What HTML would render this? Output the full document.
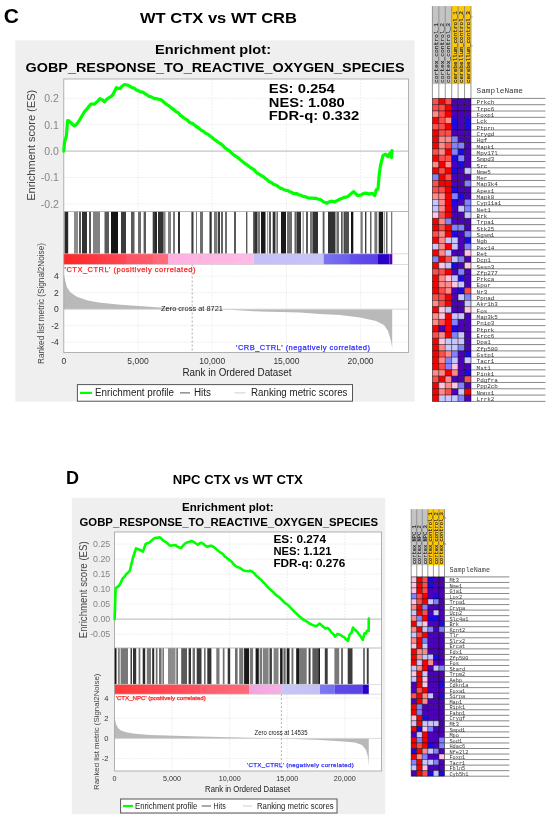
<!DOCTYPE html><html><head><meta charset="utf-8"><style>html,body{margin:0;padding:0;background:#fff;width:550px;height:819px;overflow:hidden}svg{display:block;filter:blur(0.35px)}</style></head><body>
<svg width="550" height="819" viewBox="0 0 550 819">
<rect width="550" height="819" fill="#fff"/>
<text x="3.8" y="23.4" font-family='"Liberation Sans", sans-serif' font-size="21" font-weight="bold" fill="#000" text-anchor="start" >C</text>
<text x="218.5" y="23.3" font-family='"Liberation Sans", sans-serif' font-size="15.5" font-weight="bold" fill="#000" text-anchor="middle" textLength="157" lengthAdjust="spacingAndGlyphs" >WT CTX vs WT CRB</text>
<rect x="15.3" y="40.4" width="399.3" height="361.20000000000005" fill="#efefef"/>
<rect x="63.8" y="79" width="344.59999999999997" height="273.6" fill="#fff"/>
<line x1="138.0" y1="79" x2="138.0" y2="211.5" stroke="#ebebeb" stroke-width="0.8" stroke-dasharray="2,1"/>
<line x1="138.0" y1="264.5" x2="138.0" y2="352.6" stroke="#ebebeb" stroke-width="0.8" stroke-dasharray="2,1"/>
<line x1="212.2" y1="79" x2="212.2" y2="211.5" stroke="#ebebeb" stroke-width="0.8" stroke-dasharray="2,1"/>
<line x1="212.2" y1="264.5" x2="212.2" y2="352.6" stroke="#ebebeb" stroke-width="0.8" stroke-dasharray="2,1"/>
<line x1="286.4" y1="79" x2="286.4" y2="211.5" stroke="#ebebeb" stroke-width="0.8" stroke-dasharray="2,1"/>
<line x1="286.4" y1="264.5" x2="286.4" y2="352.6" stroke="#ebebeb" stroke-width="0.8" stroke-dasharray="2,1"/>
<line x1="360.6" y1="79" x2="360.6" y2="211.5" stroke="#ebebeb" stroke-width="0.8" stroke-dasharray="2,1"/>
<line x1="360.6" y1="264.5" x2="360.6" y2="352.6" stroke="#ebebeb" stroke-width="0.8" stroke-dasharray="2,1"/>
<line x1="63.8" y1="98.3" x2="408.4" y2="98.3" stroke="#ebebeb" stroke-width="0.8" stroke-dasharray="2,1"/>
<text x="58.9" y="102.1" font-family='"Liberation Sans", sans-serif' font-size="10.5" font-weight="normal" fill="#858585" text-anchor="end" >0.2</text>
<line x1="63.8" y1="124.7" x2="408.4" y2="124.7" stroke="#ebebeb" stroke-width="0.8" stroke-dasharray="2,1"/>
<text x="58.9" y="128.5" font-family='"Liberation Sans", sans-serif' font-size="10.5" font-weight="normal" fill="#858585" text-anchor="end" >0.1</text>
<line x1="63.8" y1="151.1" x2="408.4" y2="151.1" stroke="#b8b8b8" stroke-width="1"/>
<text x="58.9" y="154.9" font-family='"Liberation Sans", sans-serif' font-size="10.5" font-weight="normal" fill="#858585" text-anchor="end" >0.0</text>
<line x1="63.8" y1="177.5" x2="408.4" y2="177.5" stroke="#ebebeb" stroke-width="0.8" stroke-dasharray="2,1"/>
<text x="58.9" y="181.3" font-family='"Liberation Sans", sans-serif' font-size="10.5" font-weight="normal" fill="#858585" text-anchor="end" >-0.1</text>
<line x1="63.8" y1="203.9" x2="408.4" y2="203.9" stroke="#ebebeb" stroke-width="0.8" stroke-dasharray="2,1"/>
<text x="58.9" y="207.7" font-family='"Liberation Sans", sans-serif' font-size="10.5" font-weight="normal" fill="#858585" text-anchor="end" >-0.2</text>
<line x1="63.8" y1="276.2" x2="408.4" y2="276.2" stroke="#ebebeb" stroke-width="0.8" stroke-dasharray="2,1"/>
<text x="58.8" y="279.2" font-family='"Liberation Sans", sans-serif' font-size="8.5" font-weight="normal" fill="#333" text-anchor="end" >4</text>
<line x1="63.8" y1="292.7" x2="408.4" y2="292.7" stroke="#ebebeb" stroke-width="0.8" stroke-dasharray="2,1"/>
<text x="58.8" y="295.7" font-family='"Liberation Sans", sans-serif' font-size="8.5" font-weight="normal" fill="#333" text-anchor="end" >2</text>
<text x="58.8" y="312.2" font-family='"Liberation Sans", sans-serif' font-size="8.5" font-weight="normal" fill="#333" text-anchor="end" >0</text>
<line x1="63.8" y1="325.7" x2="408.4" y2="325.7" stroke="#ebebeb" stroke-width="0.8" stroke-dasharray="2,1"/>
<text x="58.8" y="328.7" font-family='"Liberation Sans", sans-serif' font-size="8.5" font-weight="normal" fill="#333" text-anchor="end" >-2</text>
<line x1="63.8" y1="342.2" x2="408.4" y2="342.2" stroke="#ebebeb" stroke-width="0.8" stroke-dasharray="2,1"/>
<text x="58.8" y="345.2" font-family='"Liberation Sans", sans-serif' font-size="8.5" font-weight="normal" fill="#333" text-anchor="end" >-4</text>
<path d="M63.8,309.2 L63.8,274.2 L65.5,281.8 L67.0,287.3 L70.3,292.3 L76.8,296.7 L87.7,300.4 L98.6,302.5 L120.5,304.7 L142.3,306.3 L159.7,307.6 L180.0,308.5 L193.4,309.3 L230.0,309.8 L260.0,311.5 L300.0,312.6 L320.0,314.0 L340.0,315.0 L360.0,317.4 L376.0,321.0 L384.0,325.0 L388.0,331.0 L391.0,341.0 L392.2,348.0 L392.2,309.2 Z" fill="#b9b9b9" stroke="none"/>
<line x1="63.8" y1="309.2" x2="408.4" y2="309.2" stroke="#d0d0d0" stroke-width="0.8"/>
<line x1="192.2" y1="264.5" x2="192.2" y2="352.6" stroke="#9a9a9a" stroke-width="0.8" stroke-dasharray="2,2"/>
<text x="161" y="311.0" font-family='"Liberation Sans", sans-serif' font-size="7.5" font-weight="normal" fill="#222" text-anchor="start" textLength="62" lengthAdjust="spacingAndGlyphs" >Zero cross at 8721</text>
<rect x="64.5" y="211.5" width="3.7" height="42.30000000000001" fill="rgb(40,40,40)"/>
<rect x="74.0" y="211.5" width="4.0" height="42.30000000000001" fill="rgb(140,140,140)"/>
<rect x="79.0" y="211.5" width="2.0" height="42.30000000000001" fill="rgb(90,90,90)"/>
<rect x="82.0" y="211.5" width="5.0" height="42.30000000000001" fill="rgb(50,50,50)"/>
<rect x="89.0" y="211.5" width="2.0" height="42.30000000000001" fill="rgb(90,90,90)"/>
<rect x="93.0" y="211.5" width="7.0" height="42.30000000000001" fill="rgb(130,130,130)"/>
<rect x="104.5" y="211.5" width="4.5" height="42.30000000000001" fill="rgb(90,90,90)"/>
<rect x="111.0" y="211.5" width="7.0" height="42.30000000000001" fill="rgb(20,20,20)"/>
<rect x="121.0" y="211.5" width="5.0" height="42.30000000000001" fill="rgb(60,60,60)"/>
<rect x="131.0" y="211.5" width="3.5" height="42.30000000000001" fill="rgb(90,90,90)"/>
<rect x="138.0" y="211.5" width="3.0" height="42.30000000000001" fill="rgb(110,110,110)"/>
<rect x="143.6" y="211.5" width="2.4" height="42.30000000000001" fill="rgb(90,90,90)"/>
<rect x="152.7" y="211.5" width="3.3" height="42.30000000000001" fill="rgb(60,60,60)"/>
<rect x="155.0" y="211.5" width="2.0" height="42.30000000000001" fill="rgb(40,40,40)"/>
<rect x="158.0" y="211.5" width="5.0" height="42.30000000000001" fill="rgb(50,50,50)"/>
<rect x="163.0" y="211.5" width="2.5" height="42.30000000000001" fill="rgb(130,130,130)"/>
<rect x="168.0" y="211.5" width="3.0" height="42.30000000000001" fill="rgb(130,130,130)"/>
<rect x="173.0" y="211.5" width="2.0" height="42.30000000000001" fill="rgb(120,120,120)"/>
<rect x="178.0" y="211.5" width="2.0" height="42.30000000000001" fill="rgb(50,50,50)"/>
<rect x="191.4" y="211.5" width="2.1" height="42.30000000000001" fill="rgb(60,60,60)"/>
<rect x="196.0" y="211.5" width="1.0" height="42.30000000000001" fill="rgb(120,120,120)"/>
<rect x="200.0" y="211.5" width="3.0" height="42.30000000000001" fill="rgb(110,110,110)"/>
<rect x="209.5" y="211.5" width="2.2" height="42.30000000000001" fill="rgb(50,50,50)"/>
<rect x="214.0" y="211.5" width="3.0" height="42.30000000000001" fill="rgb(120,120,120)"/>
<rect x="217.7" y="211.5" width="2.3" height="42.30000000000001" fill="rgb(60,60,60)"/>
<rect x="221.0" y="211.5" width="2.0" height="42.30000000000001" fill="rgb(100,100,100)"/>
<rect x="225.0" y="211.5" width="2.0" height="42.30000000000001" fill="rgb(110,110,110)"/>
<rect x="234.0" y="211.5" width="2.0" height="42.30000000000001" fill="rgb(90,90,90)"/>
<rect x="246.0" y="211.5" width="1.4" height="42.30000000000001" fill="rgb(90,90,90)"/>
<rect x="253.0" y="211.5" width="2.0" height="42.30000000000001" fill="rgb(100,100,100)"/>
<rect x="254.5" y="211.5" width="2.8" height="42.30000000000001" fill="rgb(50,50,50)"/>
<rect x="257.3" y="211.5" width="2.7" height="42.30000000000001" fill="rgb(120,120,120)"/>
<rect x="261.0" y="211.5" width="4.5" height="42.30000000000001" fill="rgb(25,25,25)"/>
<rect x="267.3" y="211.5" width="0.8" height="42.30000000000001" fill="rgb(110,110,110)"/>
<rect x="269.0" y="211.5" width="2.0" height="42.30000000000001" fill="rgb(90,90,90)"/>
<rect x="272.7" y="211.5" width="2.8" height="42.30000000000001" fill="rgb(50,50,50)"/>
<rect x="276.4" y="211.5" width="1.6" height="42.30000000000001" fill="rgb(110,110,110)"/>
<rect x="281.0" y="211.5" width="5.0" height="42.30000000000001" fill="rgb(25,25,25)"/>
<rect x="287.0" y="211.5" width="5.0" height="42.30000000000001" fill="rgb(110,110,110)"/>
<rect x="294.5" y="211.5" width="1.5" height="42.30000000000001" fill="rgb(100,100,100)"/>
<rect x="296.4" y="211.5" width="4.6" height="42.30000000000001" fill="rgb(50,50,50)"/>
<rect x="302.7" y="211.5" width="0.9" height="42.30000000000001" fill="rgb(110,110,110)"/>
<rect x="306.0" y="211.5" width="2.0" height="42.30000000000001" fill="rgb(90,90,90)"/>
<rect x="310.0" y="211.5" width="2.7" height="42.30000000000001" fill="rgb(120,120,120)"/>
<rect x="312.7" y="211.5" width="5.3" height="42.30000000000001" fill="rgb(50,50,50)"/>
<rect x="322.7" y="211.5" width="1.8" height="42.30000000000001" fill="rgb(90,90,90)"/>
<rect x="328.0" y="211.5" width="7.5" height="42.30000000000001" fill="rgb(50,50,50)"/>
<rect x="336.4" y="211.5" width="2.6" height="42.30000000000001" fill="rgb(110,110,110)"/>
<rect x="341.0" y="211.5" width="1.7" height="42.30000000000001" fill="rgb(90,90,90)"/>
<rect x="343.6" y="211.5" width="4.4" height="42.30000000000001" fill="rgb(60,60,60)"/>
<rect x="344.5" y="211.5" width="4.5" height="42.30000000000001" fill="rgb(80,80,80)"/>
<rect x="351.0" y="211.5" width="2.3" height="42.30000000000001" fill="rgb(20,20,20)"/>
<rect x="360.5" y="211.5" width="2.2" height="42.30000000000001" fill="rgb(120,120,120)"/>
<rect x="365.0" y="211.5" width="1.4" height="42.30000000000001" fill="rgb(60,60,60)"/>
<rect x="370.0" y="211.5" width="1.5" height="42.30000000000001" fill="rgb(100,100,100)"/>
<rect x="374.4" y="211.5" width="2.9" height="42.30000000000001" fill="rgb(120,120,120)"/>
<rect x="378.7" y="211.5" width="4.3" height="42.30000000000001" fill="rgb(25,25,25)"/>
<rect x="383.8" y="211.5" width="0.8" height="42.30000000000001" fill="rgb(90,90,90)"/>
<rect x="386.0" y="211.5" width="1.5" height="42.30000000000001" fill="rgb(100,100,100)"/>
<rect x="391.0" y="211.5" width="1.3" height="42.30000000000001" fill="rgb(120,120,120)"/>
<defs><linearGradient id="grad1" x1="0" x2="1" y1="0" y2="0"><stop offset="0" stop-color="#ff2626"/><stop offset="1" stop-color="#ff4858"/></linearGradient></defs>
<rect x="63.8" y="253.8" width="62.2" height="10.699999999999989" fill="url(#grad1)"/>
<defs><linearGradient id="grad2" x1="0" x2="1" y1="0" y2="0"><stop offset="0" stop-color="#ff5262"/><stop offset="1" stop-color="#ff5c6c"/></linearGradient></defs>
<rect x="126" y="253.8" width="27" height="10.699999999999989" fill="url(#grad2)"/>
<defs><linearGradient id="grad3" x1="0" x2="1" y1="0" y2="0"><stop offset="0" stop-color="#ff6878"/><stop offset="1" stop-color="#ff6c7c"/></linearGradient></defs>
<rect x="153" y="253.8" width="15" height="10.699999999999989" fill="url(#grad3)"/>
<defs><linearGradient id="grad4" x1="0" x2="1" y1="0" y2="0"><stop offset="0" stop-color="#ffb0e0"/><stop offset="1" stop-color="#ffbce6"/></linearGradient></defs>
<rect x="168" y="253.8" width="85.6" height="10.699999999999989" fill="url(#grad4)"/>
<defs><linearGradient id="grad5" x1="0" x2="1" y1="0" y2="0"><stop offset="0" stop-color="#c4c0f8"/><stop offset="1" stop-color="#c8c4fa"/></linearGradient></defs>
<rect x="253.6" y="253.8" width="70.00000000000003" height="10.699999999999989" fill="url(#grad5)"/>
<defs><linearGradient id="grad6" x1="0" x2="1" y1="0" y2="0"><stop offset="0" stop-color="#7c74f2"/><stop offset="1" stop-color="#6a5cee"/></linearGradient></defs>
<rect x="323.6" y="253.8" width="26.399999999999977" height="10.699999999999989" fill="url(#grad6)"/>
<defs><linearGradient id="grad7" x1="0" x2="1" y1="0" y2="0"><stop offset="0" stop-color="#6450ec"/><stop offset="1" stop-color="#5a40e8"/></linearGradient></defs>
<rect x="350" y="253.8" width="28" height="10.699999999999989" fill="url(#grad7)"/>
<rect x="378" y="253.8" width="11.5" height="10.699999999999989" fill="#2a00c8"/>
<rect x="389.5" y="253.8" width="2.8000000000000114" height="10.699999999999989" fill="#5c00b0"/>
<line x1="63.8" y1="211.5" x2="408.4" y2="211.5" stroke="#a8a8a8" stroke-width="0.8"/>
<line x1="63.8" y1="253.8" x2="408.4" y2="253.8" stroke="#c8c8c8" stroke-width="0.6"/>
<line x1="63.8" y1="264.5" x2="408.4" y2="264.5" stroke="#c8c8c8" stroke-width="0.6"/>
<rect x="63.8" y="79" width="344.59999999999997" height="273.6" fill="none" stroke="#a0a0a0" stroke-width="0.8"/>
<path d="M63.8,151.1 L64.5,142.3 L66.4,136.0 L67.6,120.5 L69.2,121.1 L70.9,122.6 L72.7,124.6 L74.5,125.9 L76.3,124.4 L78.2,122.3 L80.9,117.7 L83.6,113.2 L85.4,110.6 L87.3,108.6 L89.1,106.3 L90.9,104.1 L92.7,104.0 L94.5,104.1 L96.3,102.4 L98.2,100.8 L100.0,98.6 L102.2,99.8 L104.5,101.9 L106.8,99.3 L109.0,97.7 L110.8,96.7 L112.7,95.0 L114.6,91.3 L116.4,87.7 L118.2,88.4 L120.0,88.6 L122.2,86.0 L124.5,84.5 L127.3,85.0 L129.1,85.8 L130.9,87.0 L132.7,87.7 L134.5,88.3 L136.4,90.1 L138.2,90.5 L140.0,91.8 L141.8,91.8 L143.7,92.7 L145.5,94.1 L147.3,95.0 L149.1,96.4 L150.9,96.8 L152.7,97.6 L154.5,98.6 L156.3,98.6 L158.2,99.1 L160.0,99.5 L161.7,100.3 L163.4,101.8 L165.1,103.3 L166.9,104.6 L168.6,105.6 L170.3,106.9 L172.0,108.5 L173.7,109.5 L175.3,111.1 L177.0,112.2 L178.7,113.2 L180.4,115.4 L182.1,116.4 L183.7,117.8 L185.4,119.0 L187.2,119.9 L189.0,122.0 L190.8,123.0 L192.6,123.4 L194.4,124.9 L196.2,126.5 L198.0,127.5 L199.7,128.9 L201.4,130.4 L203.1,131.0 L204.8,132.6 L206.5,133.6 L208.2,134.4 L209.9,135.9 L211.6,137.0 L213.3,138.7 L215.0,140.0 L216.6,140.9 L218.3,142.3 L220.0,143.5 L221.6,144.3 L223.2,145.9 L224.8,147.8 L226.4,148.8 L228.0,150.2 L229.7,151.2 L231.4,152.9 L233.1,154.4 L234.9,155.7 L236.6,156.7 L238.3,158.1 L240.0,159.5 L241.8,160.9 L243.7,162.6 L245.5,163.8 L247.3,165.0 L249.2,166.6 L251.0,168.0 L252.6,168.7 L254.2,169.9 L255.8,171.8 L257.4,173.3 L259.0,174.0 L260.6,175.2 L262.2,176.1 L263.8,177.0 L265.4,178.5 L267.0,179.6 L268.6,181.2 L270.2,182.0 L271.8,182.8 L273.4,184.2 L275.0,184.8 L276.7,185.4 L278.4,186.7 L280.2,188.1 L281.9,188.6 L283.6,189.4 L285.7,190.2 L287.9,190.7 L290.0,191.8 L291.8,192.5 L293.5,193.5 L295.3,193.6 L297.0,193.5 L298.7,194.8 L300.4,195.0 L302.1,195.9 L303.7,196.6 L305.4,196.7 L307.1,197.5 L308.8,198.0 L310.5,198.2 L312.2,198.2 L313.9,198.3 L315.6,198.2 L317.7,199.0 L319.9,199.4 L322.0,200.7 L323.7,202.0 L325.3,202.5 L327.0,203.3 L329.0,201.9 L331.0,201.2 L332.9,201.5 L334.7,201.8 L336.6,200.9 L338.5,200.0 L340.4,198.9 L342.3,198.2 L344.0,197.5 L345.7,197.2 L347.4,196.7 L349.3,195.3 L351.2,193.6 L353.8,191.6 L355.7,193.7 L357.6,195.6 L359.5,195.2 L361.4,194.9 L363.3,193.5 L365.2,193.1 L367.1,193.3 L369.0,194.1 L370.9,193.5 L372.9,193.6 L374.7,195.6 L376.2,189.8 L378.0,189.0 L379.2,174.5 L380.5,165.6 L383.0,155.4 L385.6,154.2 L388.0,156.7 L390.0,152.9 L391.5,157.5 L392.0,150.7" fill="none" stroke="#00ff00" stroke-width="3.2" stroke-linejoin="round" stroke-linecap="round"/>
<text x="64.5" y="272.3" font-family='"Liberation Sans", sans-serif' font-size="7.5" fill="#ff2020" stroke="#ff2020" stroke-width="0.25" textLength="131" lengthAdjust="spacing">'CTX_CTRL' (positively correlated)</text>
<text x="236" y="349.5" font-family='"Liberation Sans", sans-serif' font-size="7.5" fill="#3030ff" stroke="#3030ff" stroke-width="0.25" textLength="134" lengthAdjust="spacing">'CRB_CTRL' (negatively correlated)</text>
<text x="63.8" y="364.0" font-family='"Liberation Sans", sans-serif' font-size="8.5" font-weight="normal" fill="#333" text-anchor="middle" >0</text>
<text x="138.0" y="364.0" font-family='"Liberation Sans", sans-serif' font-size="8.5" font-weight="normal" fill="#333" text-anchor="middle" >5,000</text>
<text x="212.2" y="364.0" font-family='"Liberation Sans", sans-serif' font-size="8.5" font-weight="normal" fill="#333" text-anchor="middle" >10,000</text>
<text x="286.4" y="364.0" font-family='"Liberation Sans", sans-serif' font-size="8.5" font-weight="normal" fill="#333" text-anchor="middle" >15,000</text>
<text x="360.6" y="364.0" font-family='"Liberation Sans", sans-serif' font-size="8.5" font-weight="normal" fill="#333" text-anchor="middle" >20,000</text>
<text x="237" y="376.3" font-family='"Liberation Sans", sans-serif' font-size="10" font-weight="normal" fill="#222" text-anchor="middle" textLength="109" lengthAdjust="spacingAndGlyphs" >Rank in Ordered Dataset</text>
<text transform="translate(35.3,145.3) rotate(-90)" x="0" y="0" font-family='"Liberation Sans", sans-serif' font-size="11" fill="#444" text-anchor="middle" textLength="111" lengthAdjust="spacingAndGlyphs">Enrichment score (ES)</text>
<text transform="translate(44.2,303.5) rotate(-90)" x="0" y="0" font-family='"Liberation Sans", sans-serif' font-size="8.5" fill="#444" text-anchor="middle" textLength="121" lengthAdjust="spacingAndGlyphs">Ranked list metric (Signal2Noise)</text>
<text x="213" y="54.4" font-family='"Liberation Sans", sans-serif' font-size="12.2" font-weight="bold" fill="#000" text-anchor="middle" textLength="116" lengthAdjust="spacingAndGlyphs" >Enrichment plot:</text>
<text x="25.5" y="71.8" font-family='"Liberation Sans", sans-serif' font-size="13" font-weight="bold" fill="#000" text-anchor="start" textLength="379" lengthAdjust="spacingAndGlyphs" >GOBP_RESPONSE_TO_REACTIVE_OXYGEN_SPECIES</text>
<text x="268.8" y="92.8" font-family='"Liberation Sans", sans-serif' font-size="12.3" font-weight="bold" fill="#000" text-anchor="start" textLength="66" lengthAdjust="spacingAndGlyphs" >ES: 0.254</text>
<text x="268.8" y="106.5" font-family='"Liberation Sans", sans-serif' font-size="12.3" font-weight="bold" fill="#000" text-anchor="start" textLength="76" lengthAdjust="spacingAndGlyphs" >NES: 1.080</text>
<text x="268.8" y="120.2" font-family='"Liberation Sans", sans-serif' font-size="12.3" font-weight="bold" fill="#000" text-anchor="start" textLength="90.5" lengthAdjust="spacingAndGlyphs" >FDR-q: 0.332</text>
<rect x="77.4" y="384.6" width="275.1" height="16.599999999999966" fill="#fff" stroke="#555" stroke-width="1"/>
<line x1="80" y1="392.9" x2="92" y2="392.9" stroke="#00ff00" stroke-width="2.2"/>
<text x="95" y="396.4" font-family='"Liberation Sans", sans-serif' font-size="10" font-weight="normal" fill="#222" text-anchor="start" textLength="79" lengthAdjust="spacingAndGlyphs" >Enrichment profile</text>
<line x1="180" y1="392.9" x2="190" y2="392.9" stroke="#555" stroke-width="1"/>
<text x="194" y="396.4" font-family='"Liberation Sans", sans-serif' font-size="10" font-weight="normal" fill="#222" text-anchor="start" textLength="17" lengthAdjust="spacingAndGlyphs" >Hits</text>
<line x1="234.6" y1="392.9" x2="245.5" y2="392.9" stroke="#cfcfcf" stroke-width="1"/>
<text x="251" y="396.4" font-family='"Liberation Sans", sans-serif' font-size="10" font-weight="normal" fill="#222" text-anchor="start" textLength="96.5" lengthAdjust="spacingAndGlyphs" >Ranking metric scores</text>
<rect x="432.40" y="6.1" width="6.43" height="78.0" fill="#c4c4c4"/>
<rect x="438.83" y="6.1" width="6.43" height="78.0" fill="#c4c4c4"/>
<rect x="445.26" y="6.1" width="6.43" height="78.0" fill="#c4c4c4"/>
<rect x="451.69" y="6.1" width="6.43" height="78.0" fill="#ffc800"/>
<rect x="458.12" y="6.1" width="6.43" height="78.0" fill="#ffc800"/>
<rect x="464.55" y="6.1" width="6.43" height="78.0" fill="#ffc800"/>
<text transform="translate(437.61,83.1) rotate(-90)" x="0" y="0" font-family='"Liberation Mono", monospace' font-size="6.2" fill="#2a2a2a" stroke="#2a2a2a" stroke-width="0.15" textLength="60" lengthAdjust="spacingAndGlyphs">cortex_control_1</text>
<text transform="translate(444.04,83.1) rotate(-90)" x="0" y="0" font-family='"Liberation Mono", monospace' font-size="6.2" fill="#2a2a2a" stroke="#2a2a2a" stroke-width="0.15" textLength="60" lengthAdjust="spacingAndGlyphs">cortex_control_2</text>
<text transform="translate(450.47,83.1) rotate(-90)" x="0" y="0" font-family='"Liberation Mono", monospace' font-size="6.2" fill="#2a2a2a" stroke="#2a2a2a" stroke-width="0.15" textLength="60" lengthAdjust="spacingAndGlyphs">cortex_control_3</text>
<text transform="translate(456.90,83.1) rotate(-90)" x="0" y="0" font-family='"Liberation Mono", monospace' font-size="6.2" fill="#2a2a2a" stroke="#2a2a2a" stroke-width="0.15" textLength="72" lengthAdjust="spacingAndGlyphs">cerebellum_control_1</text>
<text transform="translate(463.33,83.1) rotate(-90)" x="0" y="0" font-family='"Liberation Mono", monospace' font-size="6.2" fill="#2a2a2a" stroke="#2a2a2a" stroke-width="0.15" textLength="72" lengthAdjust="spacingAndGlyphs">cerebellum_control_2</text>
<text transform="translate(469.76,83.1) rotate(-90)" x="0" y="0" font-family='"Liberation Mono", monospace' font-size="6.2" fill="#2a2a2a" stroke="#2a2a2a" stroke-width="0.15" textLength="72" lengthAdjust="spacingAndGlyphs">cerebellum_control_3</text>
<line x1="432.40" y1="6.1" x2="432.40" y2="98.4" stroke="#8a8a8a" stroke-width="0.9"/>
<line x1="438.83" y1="6.1" x2="438.83" y2="98.4" stroke="#8a8a8a" stroke-width="0.9"/>
<line x1="445.26" y1="6.1" x2="445.26" y2="98.4" stroke="#8a8a8a" stroke-width="0.9"/>
<line x1="451.69" y1="6.1" x2="451.69" y2="98.4" stroke="#8a8a8a" stroke-width="0.9"/>
<line x1="458.12" y1="6.1" x2="458.12" y2="98.4" stroke="#8a8a8a" stroke-width="0.9"/>
<line x1="464.55" y1="6.1" x2="464.55" y2="98.4" stroke="#8a8a8a" stroke-width="0.9"/>
<line x1="470.98" y1="6.1" x2="470.98" y2="98.4" stroke="#8a8a8a" stroke-width="0.9"/>
<rect x="432.40" y="98.40" width="6.43" height="6.31" fill="#ff4c4c" stroke="rgba(0,0,0,0.45)" stroke-width="0.8"/>
<rect x="438.83" y="98.40" width="6.43" height="6.31" fill="#f60000" stroke="rgba(0,0,0,0.45)" stroke-width="0.8"/>
<rect x="445.26" y="98.40" width="6.43" height="6.31" fill="#ff4c4c" stroke="rgba(0,0,0,0.45)" stroke-width="0.8"/>
<rect x="451.69" y="98.40" width="6.43" height="6.31" fill="#4c00bc" stroke="rgba(0,0,0,0.45)" stroke-width="0.8"/>
<rect x="458.12" y="98.40" width="6.43" height="6.31" fill="#4c00bc" stroke="rgba(0,0,0,0.45)" stroke-width="0.8"/>
<rect x="464.55" y="98.40" width="6.43" height="6.31" fill="#4c00bc" stroke="rgba(0,0,0,0.45)" stroke-width="0.8"/>
<rect x="432.40" y="104.71" width="6.43" height="6.31" fill="#ff4c4c" stroke="rgba(0,0,0,0.45)" stroke-width="0.8"/>
<rect x="438.83" y="104.71" width="6.43" height="6.31" fill="#ff4c4c" stroke="rgba(0,0,0,0.45)" stroke-width="0.8"/>
<rect x="445.26" y="104.71" width="6.43" height="6.31" fill="#f60000" stroke="rgba(0,0,0,0.45)" stroke-width="0.8"/>
<rect x="451.69" y="104.71" width="6.43" height="6.31" fill="#4c00bc" stroke="rgba(0,0,0,0.45)" stroke-width="0.8"/>
<rect x="458.12" y="104.71" width="6.43" height="6.31" fill="#4c00bc" stroke="rgba(0,0,0,0.45)" stroke-width="0.8"/>
<rect x="464.55" y="104.71" width="6.43" height="6.31" fill="#4c00bc" stroke="rgba(0,0,0,0.45)" stroke-width="0.8"/>
<rect x="432.40" y="111.03" width="6.43" height="6.31" fill="#ff8a8a" stroke="rgba(0,0,0,0.45)" stroke-width="0.8"/>
<rect x="438.83" y="111.03" width="6.43" height="6.31" fill="#ff4c4c" stroke="rgba(0,0,0,0.45)" stroke-width="0.8"/>
<rect x="445.26" y="111.03" width="6.43" height="6.31" fill="#f60000" stroke="rgba(0,0,0,0.45)" stroke-width="0.8"/>
<rect x="451.69" y="111.03" width="6.43" height="6.31" fill="#4c00bc" stroke="rgba(0,0,0,0.45)" stroke-width="0.8"/>
<rect x="458.12" y="111.03" width="6.43" height="6.31" fill="#4c00bc" stroke="rgba(0,0,0,0.45)" stroke-width="0.8"/>
<rect x="464.55" y="111.03" width="6.43" height="6.31" fill="#4c00bc" stroke="rgba(0,0,0,0.45)" stroke-width="0.8"/>
<rect x="432.40" y="117.34" width="6.43" height="6.31" fill="#f60000" stroke="rgba(0,0,0,0.45)" stroke-width="0.8"/>
<rect x="438.83" y="117.34" width="6.43" height="6.31" fill="#ff4c4c" stroke="rgba(0,0,0,0.45)" stroke-width="0.8"/>
<rect x="445.26" y="117.34" width="6.43" height="6.31" fill="#ff8a8a" stroke="rgba(0,0,0,0.45)" stroke-width="0.8"/>
<rect x="451.69" y="117.34" width="6.43" height="6.31" fill="#1c08e4" stroke="rgba(0,0,0,0.45)" stroke-width="0.8"/>
<rect x="458.12" y="117.34" width="6.43" height="6.31" fill="#4c00bc" stroke="rgba(0,0,0,0.45)" stroke-width="0.8"/>
<rect x="464.55" y="117.34" width="6.43" height="6.31" fill="#1c08e4" stroke="rgba(0,0,0,0.45)" stroke-width="0.8"/>
<rect x="432.40" y="123.65" width="6.43" height="6.31" fill="#ff4c4c" stroke="rgba(0,0,0,0.45)" stroke-width="0.8"/>
<rect x="438.83" y="123.65" width="6.43" height="6.31" fill="#ff4c4c" stroke="rgba(0,0,0,0.45)" stroke-width="0.8"/>
<rect x="445.26" y="123.65" width="6.43" height="6.31" fill="#f60000" stroke="rgba(0,0,0,0.45)" stroke-width="0.8"/>
<rect x="451.69" y="123.65" width="6.43" height="6.31" fill="#1c08e4" stroke="rgba(0,0,0,0.45)" stroke-width="0.8"/>
<rect x="458.12" y="123.65" width="6.43" height="6.31" fill="#4c00bc" stroke="rgba(0,0,0,0.45)" stroke-width="0.8"/>
<rect x="464.55" y="123.65" width="6.43" height="6.31" fill="#1c08e4" stroke="rgba(0,0,0,0.45)" stroke-width="0.8"/>
<rect x="432.40" y="129.96" width="6.43" height="6.31" fill="#f60000" stroke="rgba(0,0,0,0.45)" stroke-width="0.8"/>
<rect x="438.83" y="129.96" width="6.43" height="6.31" fill="#ff4c4c" stroke="rgba(0,0,0,0.45)" stroke-width="0.8"/>
<rect x="445.26" y="129.96" width="6.43" height="6.31" fill="#ff4c4c" stroke="rgba(0,0,0,0.45)" stroke-width="0.8"/>
<rect x="451.69" y="129.96" width="6.43" height="6.31" fill="#4c00bc" stroke="rgba(0,0,0,0.45)" stroke-width="0.8"/>
<rect x="458.12" y="129.96" width="6.43" height="6.31" fill="#4c00bc" stroke="rgba(0,0,0,0.45)" stroke-width="0.8"/>
<rect x="464.55" y="129.96" width="6.43" height="6.31" fill="#4c00bc" stroke="rgba(0,0,0,0.45)" stroke-width="0.8"/>
<rect x="432.40" y="136.28" width="6.43" height="6.31" fill="#f60000" stroke="rgba(0,0,0,0.45)" stroke-width="0.8"/>
<rect x="438.83" y="136.28" width="6.43" height="6.31" fill="#ff8a8a" stroke="rgba(0,0,0,0.45)" stroke-width="0.8"/>
<rect x="445.26" y="136.28" width="6.43" height="6.31" fill="#ff8a8a" stroke="rgba(0,0,0,0.45)" stroke-width="0.8"/>
<rect x="451.69" y="136.28" width="6.43" height="6.31" fill="#8282ff" stroke="rgba(0,0,0,0.45)" stroke-width="0.8"/>
<rect x="458.12" y="136.28" width="6.43" height="6.31" fill="#4c00bc" stroke="rgba(0,0,0,0.45)" stroke-width="0.8"/>
<rect x="464.55" y="136.28" width="6.43" height="6.31" fill="#4c00bc" stroke="rgba(0,0,0,0.45)" stroke-width="0.8"/>
<rect x="432.40" y="142.59" width="6.43" height="6.31" fill="#f60000" stroke="rgba(0,0,0,0.45)" stroke-width="0.8"/>
<rect x="438.83" y="142.59" width="6.43" height="6.31" fill="#ff8a8a" stroke="rgba(0,0,0,0.45)" stroke-width="0.8"/>
<rect x="445.26" y="142.59" width="6.43" height="6.31" fill="#ff4c4c" stroke="rgba(0,0,0,0.45)" stroke-width="0.8"/>
<rect x="451.69" y="142.59" width="6.43" height="6.31" fill="#8282ff" stroke="rgba(0,0,0,0.45)" stroke-width="0.8"/>
<rect x="458.12" y="142.59" width="6.43" height="6.31" fill="#8282ff" stroke="rgba(0,0,0,0.45)" stroke-width="0.8"/>
<rect x="464.55" y="142.59" width="6.43" height="6.31" fill="#4c00bc" stroke="rgba(0,0,0,0.45)" stroke-width="0.8"/>
<rect x="432.40" y="148.90" width="6.43" height="6.31" fill="#ff4c4c" stroke="rgba(0,0,0,0.45)" stroke-width="0.8"/>
<rect x="438.83" y="148.90" width="6.43" height="6.31" fill="#ff8a8a" stroke="rgba(0,0,0,0.45)" stroke-width="0.8"/>
<rect x="445.26" y="148.90" width="6.43" height="6.31" fill="#f60000" stroke="rgba(0,0,0,0.45)" stroke-width="0.8"/>
<rect x="451.69" y="148.90" width="6.43" height="6.31" fill="#8282ff" stroke="rgba(0,0,0,0.45)" stroke-width="0.8"/>
<rect x="458.12" y="148.90" width="6.43" height="6.31" fill="#1c08e4" stroke="rgba(0,0,0,0.45)" stroke-width="0.8"/>
<rect x="464.55" y="148.90" width="6.43" height="6.31" fill="#4c00bc" stroke="rgba(0,0,0,0.45)" stroke-width="0.8"/>
<rect x="432.40" y="155.21" width="6.43" height="6.31" fill="#f60000" stroke="rgba(0,0,0,0.45)" stroke-width="0.8"/>
<rect x="438.83" y="155.21" width="6.43" height="6.31" fill="#ff4c4c" stroke="rgba(0,0,0,0.45)" stroke-width="0.8"/>
<rect x="445.26" y="155.21" width="6.43" height="6.31" fill="#ff4c4c" stroke="rgba(0,0,0,0.45)" stroke-width="0.8"/>
<rect x="451.69" y="155.21" width="6.43" height="6.31" fill="#1c08e4" stroke="rgba(0,0,0,0.45)" stroke-width="0.8"/>
<rect x="458.12" y="155.21" width="6.43" height="6.31" fill="#8282ff" stroke="rgba(0,0,0,0.45)" stroke-width="0.8"/>
<rect x="464.55" y="155.21" width="6.43" height="6.31" fill="#4c00bc" stroke="rgba(0,0,0,0.45)" stroke-width="0.8"/>
<rect x="432.40" y="161.53" width="6.43" height="6.31" fill="#ff8a8a" stroke="rgba(0,0,0,0.45)" stroke-width="0.8"/>
<rect x="438.83" y="161.53" width="6.43" height="6.31" fill="#f60000" stroke="rgba(0,0,0,0.45)" stroke-width="0.8"/>
<rect x="445.26" y="161.53" width="6.43" height="6.31" fill="#ff8a8a" stroke="rgba(0,0,0,0.45)" stroke-width="0.8"/>
<rect x="451.69" y="161.53" width="6.43" height="6.31" fill="#4c00bc" stroke="rgba(0,0,0,0.45)" stroke-width="0.8"/>
<rect x="458.12" y="161.53" width="6.43" height="6.31" fill="#1c08e4" stroke="rgba(0,0,0,0.45)" stroke-width="0.8"/>
<rect x="464.55" y="161.53" width="6.43" height="6.31" fill="#4c00bc" stroke="rgba(0,0,0,0.45)" stroke-width="0.8"/>
<rect x="432.40" y="167.84" width="6.43" height="6.31" fill="#f60000" stroke="rgba(0,0,0,0.45)" stroke-width="0.8"/>
<rect x="438.83" y="167.84" width="6.43" height="6.31" fill="#ff4c4c" stroke="rgba(0,0,0,0.45)" stroke-width="0.8"/>
<rect x="445.26" y="167.84" width="6.43" height="6.31" fill="#f60000" stroke="rgba(0,0,0,0.45)" stroke-width="0.8"/>
<rect x="451.69" y="167.84" width="6.43" height="6.31" fill="#1c08e4" stroke="rgba(0,0,0,0.45)" stroke-width="0.8"/>
<rect x="458.12" y="167.84" width="6.43" height="6.31" fill="#4c00bc" stroke="rgba(0,0,0,0.45)" stroke-width="0.8"/>
<rect x="464.55" y="167.84" width="6.43" height="6.31" fill="#c8c6ff" stroke="rgba(0,0,0,0.45)" stroke-width="0.8"/>
<rect x="432.40" y="174.15" width="6.43" height="6.31" fill="#8282ff" stroke="rgba(0,0,0,0.45)" stroke-width="0.8"/>
<rect x="438.83" y="174.15" width="6.43" height="6.31" fill="#f60000" stroke="rgba(0,0,0,0.45)" stroke-width="0.8"/>
<rect x="445.26" y="174.15" width="6.43" height="6.31" fill="#ff4c4c" stroke="rgba(0,0,0,0.45)" stroke-width="0.8"/>
<rect x="451.69" y="174.15" width="6.43" height="6.31" fill="#4c00bc" stroke="rgba(0,0,0,0.45)" stroke-width="0.8"/>
<rect x="458.12" y="174.15" width="6.43" height="6.31" fill="#4c00bc" stroke="rgba(0,0,0,0.45)" stroke-width="0.8"/>
<rect x="464.55" y="174.15" width="6.43" height="6.31" fill="#4c00bc" stroke="rgba(0,0,0,0.45)" stroke-width="0.8"/>
<rect x="432.40" y="180.46" width="6.43" height="6.31" fill="#ff4c4c" stroke="rgba(0,0,0,0.45)" stroke-width="0.8"/>
<rect x="438.83" y="180.46" width="6.43" height="6.31" fill="#f60000" stroke="rgba(0,0,0,0.45)" stroke-width="0.8"/>
<rect x="445.26" y="180.46" width="6.43" height="6.31" fill="#f60000" stroke="rgba(0,0,0,0.45)" stroke-width="0.8"/>
<rect x="451.69" y="180.46" width="6.43" height="6.31" fill="#4c00bc" stroke="rgba(0,0,0,0.45)" stroke-width="0.8"/>
<rect x="458.12" y="180.46" width="6.43" height="6.31" fill="#4c00bc" stroke="rgba(0,0,0,0.45)" stroke-width="0.8"/>
<rect x="464.55" y="180.46" width="6.43" height="6.31" fill="#8282ff" stroke="rgba(0,0,0,0.45)" stroke-width="0.8"/>
<rect x="432.40" y="186.78" width="6.43" height="6.31" fill="#ff4c4c" stroke="rgba(0,0,0,0.45)" stroke-width="0.8"/>
<rect x="438.83" y="186.78" width="6.43" height="6.31" fill="#ff4c4c" stroke="rgba(0,0,0,0.45)" stroke-width="0.8"/>
<rect x="445.26" y="186.78" width="6.43" height="6.31" fill="#f60000" stroke="rgba(0,0,0,0.45)" stroke-width="0.8"/>
<rect x="451.69" y="186.78" width="6.43" height="6.31" fill="#1c08e4" stroke="rgba(0,0,0,0.45)" stroke-width="0.8"/>
<rect x="458.12" y="186.78" width="6.43" height="6.31" fill="#4c00bc" stroke="rgba(0,0,0,0.45)" stroke-width="0.8"/>
<rect x="464.55" y="186.78" width="6.43" height="6.31" fill="#4c00bc" stroke="rgba(0,0,0,0.45)" stroke-width="0.8"/>
<rect x="432.40" y="193.09" width="6.43" height="6.31" fill="#ff8a8a" stroke="rgba(0,0,0,0.45)" stroke-width="0.8"/>
<rect x="438.83" y="193.09" width="6.43" height="6.31" fill="#ff8a8a" stroke="rgba(0,0,0,0.45)" stroke-width="0.8"/>
<rect x="445.26" y="193.09" width="6.43" height="6.31" fill="#f60000" stroke="rgba(0,0,0,0.45)" stroke-width="0.8"/>
<rect x="451.69" y="193.09" width="6.43" height="6.31" fill="#8282ff" stroke="rgba(0,0,0,0.45)" stroke-width="0.8"/>
<rect x="458.12" y="193.09" width="6.43" height="6.31" fill="#1c08e4" stroke="rgba(0,0,0,0.45)" stroke-width="0.8"/>
<rect x="464.55" y="193.09" width="6.43" height="6.31" fill="#4c00bc" stroke="rgba(0,0,0,0.45)" stroke-width="0.8"/>
<rect x="432.40" y="199.40" width="6.43" height="6.31" fill="#c8c6ff" stroke="rgba(0,0,0,0.45)" stroke-width="0.8"/>
<rect x="438.83" y="199.40" width="6.43" height="6.31" fill="#ff8a8a" stroke="rgba(0,0,0,0.45)" stroke-width="0.8"/>
<rect x="445.26" y="199.40" width="6.43" height="6.31" fill="#f60000" stroke="rgba(0,0,0,0.45)" stroke-width="0.8"/>
<rect x="451.69" y="199.40" width="6.43" height="6.31" fill="#1c08e4" stroke="rgba(0,0,0,0.45)" stroke-width="0.8"/>
<rect x="458.12" y="199.40" width="6.43" height="6.31" fill="#4c00bc" stroke="rgba(0,0,0,0.45)" stroke-width="0.8"/>
<rect x="464.55" y="199.40" width="6.43" height="6.31" fill="#8282ff" stroke="rgba(0,0,0,0.45)" stroke-width="0.8"/>
<rect x="432.40" y="205.71" width="6.43" height="6.31" fill="#c8c6ff" stroke="rgba(0,0,0,0.45)" stroke-width="0.8"/>
<rect x="438.83" y="205.71" width="6.43" height="6.31" fill="#ff8a8a" stroke="rgba(0,0,0,0.45)" stroke-width="0.8"/>
<rect x="445.26" y="205.71" width="6.43" height="6.31" fill="#f60000" stroke="rgba(0,0,0,0.45)" stroke-width="0.8"/>
<rect x="451.69" y="205.71" width="6.43" height="6.31" fill="#4c00bc" stroke="rgba(0,0,0,0.45)" stroke-width="0.8"/>
<rect x="458.12" y="205.71" width="6.43" height="6.31" fill="#c8c6ff" stroke="rgba(0,0,0,0.45)" stroke-width="0.8"/>
<rect x="464.55" y="205.71" width="6.43" height="6.31" fill="#8282ff" stroke="rgba(0,0,0,0.45)" stroke-width="0.8"/>
<rect x="432.40" y="212.03" width="6.43" height="6.31" fill="#ffc4e2" stroke="rgba(0,0,0,0.45)" stroke-width="0.8"/>
<rect x="438.83" y="212.03" width="6.43" height="6.31" fill="#ff4c4c" stroke="rgba(0,0,0,0.45)" stroke-width="0.8"/>
<rect x="445.26" y="212.03" width="6.43" height="6.31" fill="#f60000" stroke="rgba(0,0,0,0.45)" stroke-width="0.8"/>
<rect x="451.69" y="212.03" width="6.43" height="6.31" fill="#4c00bc" stroke="rgba(0,0,0,0.45)" stroke-width="0.8"/>
<rect x="458.12" y="212.03" width="6.43" height="6.31" fill="#4c00bc" stroke="rgba(0,0,0,0.45)" stroke-width="0.8"/>
<rect x="464.55" y="212.03" width="6.43" height="6.31" fill="#c8c6ff" stroke="rgba(0,0,0,0.45)" stroke-width="0.8"/>
<rect x="432.40" y="218.34" width="6.43" height="6.31" fill="#f60000" stroke="rgba(0,0,0,0.45)" stroke-width="0.8"/>
<rect x="438.83" y="218.34" width="6.43" height="6.31" fill="#ff8a8a" stroke="rgba(0,0,0,0.45)" stroke-width="0.8"/>
<rect x="445.26" y="218.34" width="6.43" height="6.31" fill="#8282ff" stroke="rgba(0,0,0,0.45)" stroke-width="0.8"/>
<rect x="451.69" y="218.34" width="6.43" height="6.31" fill="#4c00bc" stroke="rgba(0,0,0,0.45)" stroke-width="0.8"/>
<rect x="458.12" y="218.34" width="6.43" height="6.31" fill="#4c00bc" stroke="rgba(0,0,0,0.45)" stroke-width="0.8"/>
<rect x="464.55" y="218.34" width="6.43" height="6.31" fill="#4c00bc" stroke="rgba(0,0,0,0.45)" stroke-width="0.8"/>
<rect x="432.40" y="224.65" width="6.43" height="6.31" fill="#f60000" stroke="rgba(0,0,0,0.45)" stroke-width="0.8"/>
<rect x="438.83" y="224.65" width="6.43" height="6.31" fill="#ff4c4c" stroke="rgba(0,0,0,0.45)" stroke-width="0.8"/>
<rect x="445.26" y="224.65" width="6.43" height="6.31" fill="#f60000" stroke="rgba(0,0,0,0.45)" stroke-width="0.8"/>
<rect x="451.69" y="224.65" width="6.43" height="6.31" fill="#8282ff" stroke="rgba(0,0,0,0.45)" stroke-width="0.8"/>
<rect x="458.12" y="224.65" width="6.43" height="6.31" fill="#8282ff" stroke="rgba(0,0,0,0.45)" stroke-width="0.8"/>
<rect x="464.55" y="224.65" width="6.43" height="6.31" fill="#4c00bc" stroke="rgba(0,0,0,0.45)" stroke-width="0.8"/>
<rect x="432.40" y="230.96" width="6.43" height="6.31" fill="#ff4c4c" stroke="rgba(0,0,0,0.45)" stroke-width="0.8"/>
<rect x="438.83" y="230.96" width="6.43" height="6.31" fill="#ff8a8a" stroke="rgba(0,0,0,0.45)" stroke-width="0.8"/>
<rect x="445.26" y="230.96" width="6.43" height="6.31" fill="#f60000" stroke="rgba(0,0,0,0.45)" stroke-width="0.8"/>
<rect x="451.69" y="230.96" width="6.43" height="6.31" fill="#1c08e4" stroke="rgba(0,0,0,0.45)" stroke-width="0.8"/>
<rect x="458.12" y="230.96" width="6.43" height="6.31" fill="#4c00bc" stroke="rgba(0,0,0,0.45)" stroke-width="0.8"/>
<rect x="464.55" y="230.96" width="6.43" height="6.31" fill="#8282ff" stroke="rgba(0,0,0,0.45)" stroke-width="0.8"/>
<rect x="432.40" y="237.28" width="6.43" height="6.31" fill="#f60000" stroke="rgba(0,0,0,0.45)" stroke-width="0.8"/>
<rect x="438.83" y="237.28" width="6.43" height="6.31" fill="#ff8a8a" stroke="rgba(0,0,0,0.45)" stroke-width="0.8"/>
<rect x="445.26" y="237.28" width="6.43" height="6.31" fill="#c8c6ff" stroke="rgba(0,0,0,0.45)" stroke-width="0.8"/>
<rect x="451.69" y="237.28" width="6.43" height="6.31" fill="#c8c6ff" stroke="rgba(0,0,0,0.45)" stroke-width="0.8"/>
<rect x="458.12" y="237.28" width="6.43" height="6.31" fill="#4c00bc" stroke="rgba(0,0,0,0.45)" stroke-width="0.8"/>
<rect x="464.55" y="237.28" width="6.43" height="6.31" fill="#1c08e4" stroke="rgba(0,0,0,0.45)" stroke-width="0.8"/>
<rect x="432.40" y="243.59" width="6.43" height="6.31" fill="#c8c6ff" stroke="rgba(0,0,0,0.45)" stroke-width="0.8"/>
<rect x="438.83" y="243.59" width="6.43" height="6.31" fill="#ff8a8a" stroke="rgba(0,0,0,0.45)" stroke-width="0.8"/>
<rect x="445.26" y="243.59" width="6.43" height="6.31" fill="#f60000" stroke="rgba(0,0,0,0.45)" stroke-width="0.8"/>
<rect x="451.69" y="243.59" width="6.43" height="6.31" fill="#c8c6ff" stroke="rgba(0,0,0,0.45)" stroke-width="0.8"/>
<rect x="458.12" y="243.59" width="6.43" height="6.31" fill="#4c00bc" stroke="rgba(0,0,0,0.45)" stroke-width="0.8"/>
<rect x="464.55" y="243.59" width="6.43" height="6.31" fill="#8282ff" stroke="rgba(0,0,0,0.45)" stroke-width="0.8"/>
<rect x="432.40" y="249.90" width="6.43" height="6.31" fill="#f60000" stroke="rgba(0,0,0,0.45)" stroke-width="0.8"/>
<rect x="438.83" y="249.90" width="6.43" height="6.31" fill="#ff8a8a" stroke="rgba(0,0,0,0.45)" stroke-width="0.8"/>
<rect x="445.26" y="249.90" width="6.43" height="6.31" fill="#c8c6ff" stroke="rgba(0,0,0,0.45)" stroke-width="0.8"/>
<rect x="451.69" y="249.90" width="6.43" height="6.31" fill="#4c00bc" stroke="rgba(0,0,0,0.45)" stroke-width="0.8"/>
<rect x="458.12" y="249.90" width="6.43" height="6.31" fill="#4c00bc" stroke="rgba(0,0,0,0.45)" stroke-width="0.8"/>
<rect x="464.55" y="249.90" width="6.43" height="6.31" fill="#ffc4e2" stroke="rgba(0,0,0,0.45)" stroke-width="0.8"/>
<rect x="432.40" y="256.21" width="6.43" height="6.31" fill="#8282ff" stroke="rgba(0,0,0,0.45)" stroke-width="0.8"/>
<rect x="438.83" y="256.21" width="6.43" height="6.31" fill="#f60000" stroke="rgba(0,0,0,0.45)" stroke-width="0.8"/>
<rect x="445.26" y="256.21" width="6.43" height="6.31" fill="#ff4c4c" stroke="rgba(0,0,0,0.45)" stroke-width="0.8"/>
<rect x="451.69" y="256.21" width="6.43" height="6.31" fill="#c8c6ff" stroke="rgba(0,0,0,0.45)" stroke-width="0.8"/>
<rect x="458.12" y="256.21" width="6.43" height="6.31" fill="#8282ff" stroke="rgba(0,0,0,0.45)" stroke-width="0.8"/>
<rect x="464.55" y="256.21" width="6.43" height="6.31" fill="#4c00bc" stroke="rgba(0,0,0,0.45)" stroke-width="0.8"/>
<rect x="432.40" y="262.52" width="6.43" height="6.31" fill="#f60000" stroke="rgba(0,0,0,0.45)" stroke-width="0.8"/>
<rect x="438.83" y="262.52" width="6.43" height="6.31" fill="#ffc4e2" stroke="rgba(0,0,0,0.45)" stroke-width="0.8"/>
<rect x="445.26" y="262.52" width="6.43" height="6.31" fill="#c8c6ff" stroke="rgba(0,0,0,0.45)" stroke-width="0.8"/>
<rect x="451.69" y="262.52" width="6.43" height="6.31" fill="#1c08e4" stroke="rgba(0,0,0,0.45)" stroke-width="0.8"/>
<rect x="458.12" y="262.52" width="6.43" height="6.31" fill="#4c00bc" stroke="rgba(0,0,0,0.45)" stroke-width="0.8"/>
<rect x="464.55" y="262.52" width="6.43" height="6.31" fill="#ffc4e2" stroke="rgba(0,0,0,0.45)" stroke-width="0.8"/>
<rect x="432.40" y="268.84" width="6.43" height="6.31" fill="#ff4c4c" stroke="rgba(0,0,0,0.45)" stroke-width="0.8"/>
<rect x="438.83" y="268.84" width="6.43" height="6.31" fill="#ff4c4c" stroke="rgba(0,0,0,0.45)" stroke-width="0.8"/>
<rect x="445.26" y="268.84" width="6.43" height="6.31" fill="#f60000" stroke="rgba(0,0,0,0.45)" stroke-width="0.8"/>
<rect x="451.69" y="268.84" width="6.43" height="6.31" fill="#4c00bc" stroke="rgba(0,0,0,0.45)" stroke-width="0.8"/>
<rect x="458.12" y="268.84" width="6.43" height="6.31" fill="#8282ff" stroke="rgba(0,0,0,0.45)" stroke-width="0.8"/>
<rect x="464.55" y="268.84" width="6.43" height="6.31" fill="#4c00bc" stroke="rgba(0,0,0,0.45)" stroke-width="0.8"/>
<rect x="432.40" y="275.15" width="6.43" height="6.31" fill="#f60000" stroke="rgba(0,0,0,0.45)" stroke-width="0.8"/>
<rect x="438.83" y="275.15" width="6.43" height="6.31" fill="#ff8a8a" stroke="rgba(0,0,0,0.45)" stroke-width="0.8"/>
<rect x="445.26" y="275.15" width="6.43" height="6.31" fill="#ffc4e2" stroke="rgba(0,0,0,0.45)" stroke-width="0.8"/>
<rect x="451.69" y="275.15" width="6.43" height="6.31" fill="#c8c6ff" stroke="rgba(0,0,0,0.45)" stroke-width="0.8"/>
<rect x="458.12" y="275.15" width="6.43" height="6.31" fill="#1c08e4" stroke="rgba(0,0,0,0.45)" stroke-width="0.8"/>
<rect x="464.55" y="275.15" width="6.43" height="6.31" fill="#4c00bc" stroke="rgba(0,0,0,0.45)" stroke-width="0.8"/>
<rect x="432.40" y="281.46" width="6.43" height="6.31" fill="#f60000" stroke="rgba(0,0,0,0.45)" stroke-width="0.8"/>
<rect x="438.83" y="281.46" width="6.43" height="6.31" fill="#ff8a8a" stroke="rgba(0,0,0,0.45)" stroke-width="0.8"/>
<rect x="445.26" y="281.46" width="6.43" height="6.31" fill="#ff8a8a" stroke="rgba(0,0,0,0.45)" stroke-width="0.8"/>
<rect x="451.69" y="281.46" width="6.43" height="6.31" fill="#ffc4e2" stroke="rgba(0,0,0,0.45)" stroke-width="0.8"/>
<rect x="458.12" y="281.46" width="6.43" height="6.31" fill="#c8c6ff" stroke="rgba(0,0,0,0.45)" stroke-width="0.8"/>
<rect x="464.55" y="281.46" width="6.43" height="6.31" fill="#4c00bc" stroke="rgba(0,0,0,0.45)" stroke-width="0.8"/>
<rect x="432.40" y="287.77" width="6.43" height="6.31" fill="#f60000" stroke="rgba(0,0,0,0.45)" stroke-width="0.8"/>
<rect x="438.83" y="287.77" width="6.43" height="6.31" fill="#ff4c4c" stroke="rgba(0,0,0,0.45)" stroke-width="0.8"/>
<rect x="445.26" y="287.77" width="6.43" height="6.31" fill="#ff8a8a" stroke="rgba(0,0,0,0.45)" stroke-width="0.8"/>
<rect x="451.69" y="287.77" width="6.43" height="6.31" fill="#4c00bc" stroke="rgba(0,0,0,0.45)" stroke-width="0.8"/>
<rect x="458.12" y="287.77" width="6.43" height="6.31" fill="#1c08e4" stroke="rgba(0,0,0,0.45)" stroke-width="0.8"/>
<rect x="464.55" y="287.77" width="6.43" height="6.31" fill="#ff4c4c" stroke="rgba(0,0,0,0.45)" stroke-width="0.8"/>
<rect x="432.40" y="294.09" width="6.43" height="6.31" fill="#ff4c4c" stroke="rgba(0,0,0,0.45)" stroke-width="0.8"/>
<rect x="438.83" y="294.09" width="6.43" height="6.31" fill="#ff4c4c" stroke="rgba(0,0,0,0.45)" stroke-width="0.8"/>
<rect x="445.26" y="294.09" width="6.43" height="6.31" fill="#f60000" stroke="rgba(0,0,0,0.45)" stroke-width="0.8"/>
<rect x="451.69" y="294.09" width="6.43" height="6.31" fill="#4c00bc" stroke="rgba(0,0,0,0.45)" stroke-width="0.8"/>
<rect x="458.12" y="294.09" width="6.43" height="6.31" fill="#c8c6ff" stroke="rgba(0,0,0,0.45)" stroke-width="0.8"/>
<rect x="464.55" y="294.09" width="6.43" height="6.31" fill="#8282ff" stroke="rgba(0,0,0,0.45)" stroke-width="0.8"/>
<rect x="432.40" y="300.40" width="6.43" height="6.31" fill="#ff8a8a" stroke="rgba(0,0,0,0.45)" stroke-width="0.8"/>
<rect x="438.83" y="300.40" width="6.43" height="6.31" fill="#ff4c4c" stroke="rgba(0,0,0,0.45)" stroke-width="0.8"/>
<rect x="445.26" y="300.40" width="6.43" height="6.31" fill="#f60000" stroke="rgba(0,0,0,0.45)" stroke-width="0.8"/>
<rect x="451.69" y="300.40" width="6.43" height="6.31" fill="#4c00bc" stroke="rgba(0,0,0,0.45)" stroke-width="0.8"/>
<rect x="458.12" y="300.40" width="6.43" height="6.31" fill="#4c00bc" stroke="rgba(0,0,0,0.45)" stroke-width="0.8"/>
<rect x="464.55" y="300.40" width="6.43" height="6.31" fill="#c8c6ff" stroke="rgba(0,0,0,0.45)" stroke-width="0.8"/>
<rect x="432.40" y="306.71" width="6.43" height="6.31" fill="#f60000" stroke="rgba(0,0,0,0.45)" stroke-width="0.8"/>
<rect x="438.83" y="306.71" width="6.43" height="6.31" fill="#ffc4e2" stroke="rgba(0,0,0,0.45)" stroke-width="0.8"/>
<rect x="445.26" y="306.71" width="6.43" height="6.31" fill="#c8c6ff" stroke="rgba(0,0,0,0.45)" stroke-width="0.8"/>
<rect x="451.69" y="306.71" width="6.43" height="6.31" fill="#4c00bc" stroke="rgba(0,0,0,0.45)" stroke-width="0.8"/>
<rect x="458.12" y="306.71" width="6.43" height="6.31" fill="#4c00bc" stroke="rgba(0,0,0,0.45)" stroke-width="0.8"/>
<rect x="464.55" y="306.71" width="6.43" height="6.31" fill="#ffc4e2" stroke="rgba(0,0,0,0.45)" stroke-width="0.8"/>
<rect x="432.40" y="313.02" width="6.43" height="6.31" fill="#ff8a8a" stroke="rgba(0,0,0,0.45)" stroke-width="0.8"/>
<rect x="438.83" y="313.02" width="6.43" height="6.31" fill="#ffc4e2" stroke="rgba(0,0,0,0.45)" stroke-width="0.8"/>
<rect x="445.26" y="313.02" width="6.43" height="6.31" fill="#f60000" stroke="rgba(0,0,0,0.45)" stroke-width="0.8"/>
<rect x="451.69" y="313.02" width="6.43" height="6.31" fill="#c8c6ff" stroke="rgba(0,0,0,0.45)" stroke-width="0.8"/>
<rect x="458.12" y="313.02" width="6.43" height="6.31" fill="#c8c6ff" stroke="rgba(0,0,0,0.45)" stroke-width="0.8"/>
<rect x="464.55" y="313.02" width="6.43" height="6.31" fill="#4c00bc" stroke="rgba(0,0,0,0.45)" stroke-width="0.8"/>
<rect x="432.40" y="319.34" width="6.43" height="6.31" fill="#ff8a8a" stroke="rgba(0,0,0,0.45)" stroke-width="0.8"/>
<rect x="438.83" y="319.34" width="6.43" height="6.31" fill="#ff4c4c" stroke="rgba(0,0,0,0.45)" stroke-width="0.8"/>
<rect x="445.26" y="319.34" width="6.43" height="6.31" fill="#f60000" stroke="rgba(0,0,0,0.45)" stroke-width="0.8"/>
<rect x="451.69" y="319.34" width="6.43" height="6.31" fill="#8282ff" stroke="rgba(0,0,0,0.45)" stroke-width="0.8"/>
<rect x="458.12" y="319.34" width="6.43" height="6.31" fill="#4c00bc" stroke="rgba(0,0,0,0.45)" stroke-width="0.8"/>
<rect x="464.55" y="319.34" width="6.43" height="6.31" fill="#4c00bc" stroke="rgba(0,0,0,0.45)" stroke-width="0.8"/>
<rect x="432.40" y="325.65" width="6.43" height="6.31" fill="#f60000" stroke="rgba(0,0,0,0.45)" stroke-width="0.8"/>
<rect x="438.83" y="325.65" width="6.43" height="6.31" fill="#4c00bc" stroke="rgba(0,0,0,0.45)" stroke-width="0.8"/>
<rect x="445.26" y="325.65" width="6.43" height="6.31" fill="#f60000" stroke="rgba(0,0,0,0.45)" stroke-width="0.8"/>
<rect x="451.69" y="325.65" width="6.43" height="6.31" fill="#1c08e4" stroke="rgba(0,0,0,0.45)" stroke-width="0.8"/>
<rect x="458.12" y="325.65" width="6.43" height="6.31" fill="#4c00bc" stroke="rgba(0,0,0,0.45)" stroke-width="0.8"/>
<rect x="464.55" y="325.65" width="6.43" height="6.31" fill="#4c00bc" stroke="rgba(0,0,0,0.45)" stroke-width="0.8"/>
<rect x="432.40" y="331.96" width="6.43" height="6.31" fill="#ff4c4c" stroke="rgba(0,0,0,0.45)" stroke-width="0.8"/>
<rect x="438.83" y="331.96" width="6.43" height="6.31" fill="#ff8a8a" stroke="rgba(0,0,0,0.45)" stroke-width="0.8"/>
<rect x="445.26" y="331.96" width="6.43" height="6.31" fill="#f60000" stroke="rgba(0,0,0,0.45)" stroke-width="0.8"/>
<rect x="451.69" y="331.96" width="6.43" height="6.31" fill="#8282ff" stroke="rgba(0,0,0,0.45)" stroke-width="0.8"/>
<rect x="458.12" y="331.96" width="6.43" height="6.31" fill="#c8c6ff" stroke="rgba(0,0,0,0.45)" stroke-width="0.8"/>
<rect x="464.55" y="331.96" width="6.43" height="6.31" fill="#4c00bc" stroke="rgba(0,0,0,0.45)" stroke-width="0.8"/>
<rect x="432.40" y="338.27" width="6.43" height="6.31" fill="#f60000" stroke="rgba(0,0,0,0.45)" stroke-width="0.8"/>
<rect x="438.83" y="338.27" width="6.43" height="6.31" fill="#ffc4e2" stroke="rgba(0,0,0,0.45)" stroke-width="0.8"/>
<rect x="445.26" y="338.27" width="6.43" height="6.31" fill="#c8c6ff" stroke="rgba(0,0,0,0.45)" stroke-width="0.8"/>
<rect x="451.69" y="338.27" width="6.43" height="6.31" fill="#c8c6ff" stroke="rgba(0,0,0,0.45)" stroke-width="0.8"/>
<rect x="458.12" y="338.27" width="6.43" height="6.31" fill="#c8c6ff" stroke="rgba(0,0,0,0.45)" stroke-width="0.8"/>
<rect x="464.55" y="338.27" width="6.43" height="6.31" fill="#4c00bc" stroke="rgba(0,0,0,0.45)" stroke-width="0.8"/>
<rect x="432.40" y="344.59" width="6.43" height="6.31" fill="#f60000" stroke="rgba(0,0,0,0.45)" stroke-width="0.8"/>
<rect x="438.83" y="344.59" width="6.43" height="6.31" fill="#ff8a8a" stroke="rgba(0,0,0,0.45)" stroke-width="0.8"/>
<rect x="445.26" y="344.59" width="6.43" height="6.31" fill="#c8c6ff" stroke="rgba(0,0,0,0.45)" stroke-width="0.8"/>
<rect x="451.69" y="344.59" width="6.43" height="6.31" fill="#c8c6ff" stroke="rgba(0,0,0,0.45)" stroke-width="0.8"/>
<rect x="458.12" y="344.59" width="6.43" height="6.31" fill="#8282ff" stroke="rgba(0,0,0,0.45)" stroke-width="0.8"/>
<rect x="464.55" y="344.59" width="6.43" height="6.31" fill="#4c00bc" stroke="rgba(0,0,0,0.45)" stroke-width="0.8"/>
<rect x="432.40" y="350.90" width="6.43" height="6.31" fill="#f60000" stroke="rgba(0,0,0,0.45)" stroke-width="0.8"/>
<rect x="438.83" y="350.90" width="6.43" height="6.31" fill="#ff4c4c" stroke="rgba(0,0,0,0.45)" stroke-width="0.8"/>
<rect x="445.26" y="350.90" width="6.43" height="6.31" fill="#ff8a8a" stroke="rgba(0,0,0,0.45)" stroke-width="0.8"/>
<rect x="451.69" y="350.90" width="6.43" height="6.31" fill="#8282ff" stroke="rgba(0,0,0,0.45)" stroke-width="0.8"/>
<rect x="458.12" y="350.90" width="6.43" height="6.31" fill="#4c00bc" stroke="rgba(0,0,0,0.45)" stroke-width="0.8"/>
<rect x="464.55" y="350.90" width="6.43" height="6.31" fill="#1c08e4" stroke="rgba(0,0,0,0.45)" stroke-width="0.8"/>
<rect x="432.40" y="357.21" width="6.43" height="6.31" fill="#f60000" stroke="rgba(0,0,0,0.45)" stroke-width="0.8"/>
<rect x="438.83" y="357.21" width="6.43" height="6.31" fill="#ff8a8a" stroke="rgba(0,0,0,0.45)" stroke-width="0.8"/>
<rect x="445.26" y="357.21" width="6.43" height="6.31" fill="#8282ff" stroke="rgba(0,0,0,0.45)" stroke-width="0.8"/>
<rect x="451.69" y="357.21" width="6.43" height="6.31" fill="#c8c6ff" stroke="rgba(0,0,0,0.45)" stroke-width="0.8"/>
<rect x="458.12" y="357.21" width="6.43" height="6.31" fill="#4c00bc" stroke="rgba(0,0,0,0.45)" stroke-width="0.8"/>
<rect x="464.55" y="357.21" width="6.43" height="6.31" fill="#c8c6ff" stroke="rgba(0,0,0,0.45)" stroke-width="0.8"/>
<rect x="432.40" y="363.52" width="6.43" height="6.31" fill="#f60000" stroke="rgba(0,0,0,0.45)" stroke-width="0.8"/>
<rect x="438.83" y="363.52" width="6.43" height="6.31" fill="#ff4c4c" stroke="rgba(0,0,0,0.45)" stroke-width="0.8"/>
<rect x="445.26" y="363.52" width="6.43" height="6.31" fill="#8282ff" stroke="rgba(0,0,0,0.45)" stroke-width="0.8"/>
<rect x="451.69" y="363.52" width="6.43" height="6.31" fill="#ffc4e2" stroke="rgba(0,0,0,0.45)" stroke-width="0.8"/>
<rect x="458.12" y="363.52" width="6.43" height="6.31" fill="#4c00bc" stroke="rgba(0,0,0,0.45)" stroke-width="0.8"/>
<rect x="464.55" y="363.52" width="6.43" height="6.31" fill="#4c00bc" stroke="rgba(0,0,0,0.45)" stroke-width="0.8"/>
<rect x="432.40" y="369.84" width="6.43" height="6.31" fill="#ff8a8a" stroke="rgba(0,0,0,0.45)" stroke-width="0.8"/>
<rect x="438.83" y="369.84" width="6.43" height="6.31" fill="#ff8a8a" stroke="rgba(0,0,0,0.45)" stroke-width="0.8"/>
<rect x="445.26" y="369.84" width="6.43" height="6.31" fill="#f60000" stroke="rgba(0,0,0,0.45)" stroke-width="0.8"/>
<rect x="451.69" y="369.84" width="6.43" height="6.31" fill="#ff8a8a" stroke="rgba(0,0,0,0.45)" stroke-width="0.8"/>
<rect x="458.12" y="369.84" width="6.43" height="6.31" fill="#4c00bc" stroke="rgba(0,0,0,0.45)" stroke-width="0.8"/>
<rect x="464.55" y="369.84" width="6.43" height="6.31" fill="#1c08e4" stroke="rgba(0,0,0,0.45)" stroke-width="0.8"/>
<rect x="432.40" y="376.15" width="6.43" height="6.31" fill="#ff4c4c" stroke="rgba(0,0,0,0.45)" stroke-width="0.8"/>
<rect x="438.83" y="376.15" width="6.43" height="6.31" fill="#f60000" stroke="rgba(0,0,0,0.45)" stroke-width="0.8"/>
<rect x="445.26" y="376.15" width="6.43" height="6.31" fill="#ff8a8a" stroke="rgba(0,0,0,0.45)" stroke-width="0.8"/>
<rect x="451.69" y="376.15" width="6.43" height="6.31" fill="#4c00bc" stroke="rgba(0,0,0,0.45)" stroke-width="0.8"/>
<rect x="458.12" y="376.15" width="6.43" height="6.31" fill="#4c00bc" stroke="rgba(0,0,0,0.45)" stroke-width="0.8"/>
<rect x="464.55" y="376.15" width="6.43" height="6.31" fill="#ff4c4c" stroke="rgba(0,0,0,0.45)" stroke-width="0.8"/>
<rect x="432.40" y="382.46" width="6.43" height="6.31" fill="#f60000" stroke="rgba(0,0,0,0.45)" stroke-width="0.8"/>
<rect x="438.83" y="382.46" width="6.43" height="6.31" fill="#ffc4e2" stroke="rgba(0,0,0,0.45)" stroke-width="0.8"/>
<rect x="445.26" y="382.46" width="6.43" height="6.31" fill="#ff8a8a" stroke="rgba(0,0,0,0.45)" stroke-width="0.8"/>
<rect x="451.69" y="382.46" width="6.43" height="6.31" fill="#ffc4e2" stroke="rgba(0,0,0,0.45)" stroke-width="0.8"/>
<rect x="458.12" y="382.46" width="6.43" height="6.31" fill="#8282ff" stroke="rgba(0,0,0,0.45)" stroke-width="0.8"/>
<rect x="464.55" y="382.46" width="6.43" height="6.31" fill="#4c00bc" stroke="rgba(0,0,0,0.45)" stroke-width="0.8"/>
<rect x="432.40" y="388.77" width="6.43" height="6.31" fill="#f60000" stroke="rgba(0,0,0,0.45)" stroke-width="0.8"/>
<rect x="438.83" y="388.77" width="6.43" height="6.31" fill="#ff8a8a" stroke="rgba(0,0,0,0.45)" stroke-width="0.8"/>
<rect x="445.26" y="388.77" width="6.43" height="6.31" fill="#ff4c4c" stroke="rgba(0,0,0,0.45)" stroke-width="0.8"/>
<rect x="451.69" y="388.77" width="6.43" height="6.31" fill="#4c00bc" stroke="rgba(0,0,0,0.45)" stroke-width="0.8"/>
<rect x="458.12" y="388.77" width="6.43" height="6.31" fill="#c8c6ff" stroke="rgba(0,0,0,0.45)" stroke-width="0.8"/>
<rect x="464.55" y="388.77" width="6.43" height="6.31" fill="#f60000" stroke="rgba(0,0,0,0.45)" stroke-width="0.8"/>
<rect x="432.40" y="395.09" width="6.43" height="6.31" fill="#f60000" stroke="rgba(0,0,0,0.45)" stroke-width="0.8"/>
<rect x="438.83" y="395.09" width="6.43" height="6.31" fill="#c8c6ff" stroke="rgba(0,0,0,0.45)" stroke-width="0.8"/>
<rect x="445.26" y="395.09" width="6.43" height="6.31" fill="#c8c6ff" stroke="rgba(0,0,0,0.45)" stroke-width="0.8"/>
<rect x="451.69" y="395.09" width="6.43" height="6.31" fill="#c8c6ff" stroke="rgba(0,0,0,0.45)" stroke-width="0.8"/>
<rect x="458.12" y="395.09" width="6.43" height="6.31" fill="#8282ff" stroke="rgba(0,0,0,0.45)" stroke-width="0.8"/>
<rect x="464.55" y="395.09" width="6.43" height="6.31" fill="#4c00bc" stroke="rgba(0,0,0,0.45)" stroke-width="0.8"/>
<rect x="432.40" y="98.40" width="38.58" height="303.00" fill="none" stroke="rgba(0,0,0,0.35)" stroke-width="0.6"/>
<line x1="470.98" y1="98.40" x2="545.4" y2="98.40" stroke="#7a7a7a" stroke-width="0.9"/>
<line x1="470.98" y1="104.71" x2="545.4" y2="104.71" stroke="#7a7a7a" stroke-width="0.9"/>
<line x1="470.98" y1="111.03" x2="545.4" y2="111.03" stroke="#7a7a7a" stroke-width="0.9"/>
<line x1="470.98" y1="117.34" x2="545.4" y2="117.34" stroke="#7a7a7a" stroke-width="0.9"/>
<line x1="470.98" y1="123.65" x2="545.4" y2="123.65" stroke="#7a7a7a" stroke-width="0.9"/>
<line x1="470.98" y1="129.96" x2="545.4" y2="129.96" stroke="#7a7a7a" stroke-width="0.9"/>
<line x1="470.98" y1="136.28" x2="545.4" y2="136.28" stroke="#7a7a7a" stroke-width="0.9"/>
<line x1="470.98" y1="142.59" x2="545.4" y2="142.59" stroke="#7a7a7a" stroke-width="0.9"/>
<line x1="470.98" y1="148.90" x2="545.4" y2="148.90" stroke="#7a7a7a" stroke-width="0.9"/>
<line x1="470.98" y1="155.21" x2="545.4" y2="155.21" stroke="#7a7a7a" stroke-width="0.9"/>
<line x1="470.98" y1="161.53" x2="545.4" y2="161.53" stroke="#7a7a7a" stroke-width="0.9"/>
<line x1="470.98" y1="167.84" x2="545.4" y2="167.84" stroke="#7a7a7a" stroke-width="0.9"/>
<line x1="470.98" y1="174.15" x2="545.4" y2="174.15" stroke="#7a7a7a" stroke-width="0.9"/>
<line x1="470.98" y1="180.46" x2="545.4" y2="180.46" stroke="#7a7a7a" stroke-width="0.9"/>
<line x1="470.98" y1="186.78" x2="545.4" y2="186.78" stroke="#7a7a7a" stroke-width="0.9"/>
<line x1="470.98" y1="193.09" x2="545.4" y2="193.09" stroke="#7a7a7a" stroke-width="0.9"/>
<line x1="470.98" y1="199.40" x2="545.4" y2="199.40" stroke="#7a7a7a" stroke-width="0.9"/>
<line x1="470.98" y1="205.71" x2="545.4" y2="205.71" stroke="#7a7a7a" stroke-width="0.9"/>
<line x1="470.98" y1="212.03" x2="545.4" y2="212.03" stroke="#7a7a7a" stroke-width="0.9"/>
<line x1="470.98" y1="218.34" x2="545.4" y2="218.34" stroke="#7a7a7a" stroke-width="0.9"/>
<line x1="470.98" y1="224.65" x2="545.4" y2="224.65" stroke="#7a7a7a" stroke-width="0.9"/>
<line x1="470.98" y1="230.96" x2="545.4" y2="230.96" stroke="#7a7a7a" stroke-width="0.9"/>
<line x1="470.98" y1="237.28" x2="545.4" y2="237.28" stroke="#7a7a7a" stroke-width="0.9"/>
<line x1="470.98" y1="243.59" x2="545.4" y2="243.59" stroke="#7a7a7a" stroke-width="0.9"/>
<line x1="470.98" y1="249.90" x2="545.4" y2="249.90" stroke="#7a7a7a" stroke-width="0.9"/>
<line x1="470.98" y1="256.21" x2="545.4" y2="256.21" stroke="#7a7a7a" stroke-width="0.9"/>
<line x1="470.98" y1="262.52" x2="545.4" y2="262.52" stroke="#7a7a7a" stroke-width="0.9"/>
<line x1="470.98" y1="268.84" x2="545.4" y2="268.84" stroke="#7a7a7a" stroke-width="0.9"/>
<line x1="470.98" y1="275.15" x2="545.4" y2="275.15" stroke="#7a7a7a" stroke-width="0.9"/>
<line x1="470.98" y1="281.46" x2="545.4" y2="281.46" stroke="#7a7a7a" stroke-width="0.9"/>
<line x1="470.98" y1="287.77" x2="545.4" y2="287.77" stroke="#7a7a7a" stroke-width="0.9"/>
<line x1="470.98" y1="294.09" x2="545.4" y2="294.09" stroke="#7a7a7a" stroke-width="0.9"/>
<line x1="470.98" y1="300.40" x2="545.4" y2="300.40" stroke="#7a7a7a" stroke-width="0.9"/>
<line x1="470.98" y1="306.71" x2="545.4" y2="306.71" stroke="#7a7a7a" stroke-width="0.9"/>
<line x1="470.98" y1="313.02" x2="545.4" y2="313.02" stroke="#7a7a7a" stroke-width="0.9"/>
<line x1="470.98" y1="319.34" x2="545.4" y2="319.34" stroke="#7a7a7a" stroke-width="0.9"/>
<line x1="470.98" y1="325.65" x2="545.4" y2="325.65" stroke="#7a7a7a" stroke-width="0.9"/>
<line x1="470.98" y1="331.96" x2="545.4" y2="331.96" stroke="#7a7a7a" stroke-width="0.9"/>
<line x1="470.98" y1="338.27" x2="545.4" y2="338.27" stroke="#7a7a7a" stroke-width="0.9"/>
<line x1="470.98" y1="344.59" x2="545.4" y2="344.59" stroke="#7a7a7a" stroke-width="0.9"/>
<line x1="470.98" y1="350.90" x2="545.4" y2="350.90" stroke="#7a7a7a" stroke-width="0.9"/>
<line x1="470.98" y1="357.21" x2="545.4" y2="357.21" stroke="#7a7a7a" stroke-width="0.9"/>
<line x1="470.98" y1="363.52" x2="545.4" y2="363.52" stroke="#7a7a7a" stroke-width="0.9"/>
<line x1="470.98" y1="369.84" x2="545.4" y2="369.84" stroke="#7a7a7a" stroke-width="0.9"/>
<line x1="470.98" y1="376.15" x2="545.4" y2="376.15" stroke="#7a7a7a" stroke-width="0.9"/>
<line x1="470.98" y1="382.46" x2="545.4" y2="382.46" stroke="#7a7a7a" stroke-width="0.9"/>
<line x1="470.98" y1="388.77" x2="545.4" y2="388.77" stroke="#7a7a7a" stroke-width="0.9"/>
<line x1="470.98" y1="395.09" x2="545.4" y2="395.09" stroke="#7a7a7a" stroke-width="0.9"/>
<line x1="470.98" y1="401.40" x2="545.4" y2="401.40" stroke="#7a7a7a" stroke-width="0.9"/>
<text x="476.6" y="104.41" font-family='"Liberation Mono", monospace' font-size="5.9" font-weight="normal" fill="#333" text-anchor="start" >Prkch</text>
<text x="476.6" y="110.73" font-family='"Liberation Mono", monospace' font-size="5.9" font-weight="normal" fill="#333" text-anchor="start" >Trpc6</text>
<text x="476.6" y="117.04" font-family='"Liberation Mono", monospace' font-size="5.9" font-weight="normal" fill="#333" text-anchor="start" >Foxp1</text>
<text x="476.6" y="123.35" font-family='"Liberation Mono", monospace' font-size="5.9" font-weight="normal" fill="#333" text-anchor="start" >Lck</text>
<text x="476.6" y="129.66" font-family='"Liberation Mono", monospace' font-size="5.9" font-weight="normal" fill="#333" text-anchor="start" >Ptprn</text>
<text x="476.6" y="135.97" font-family='"Liberation Mono", monospace' font-size="5.9" font-weight="normal" fill="#333" text-anchor="start" >Crygd</text>
<text x="476.6" y="142.29" font-family='"Liberation Mono", monospace' font-size="5.9" font-weight="normal" fill="#333" text-anchor="start" >Hgf</text>
<text x="476.6" y="148.60" font-family='"Liberation Mono", monospace' font-size="5.9" font-weight="normal" fill="#333" text-anchor="start" >Mapk1</text>
<text x="476.6" y="154.91" font-family='"Liberation Mono", monospace' font-size="5.9" font-weight="normal" fill="#333" text-anchor="start" >Mpv17l</text>
<text x="476.6" y="161.22" font-family='"Liberation Mono", monospace' font-size="5.9" font-weight="normal" fill="#333" text-anchor="start" >Smpd3</text>
<text x="476.6" y="167.54" font-family='"Liberation Mono", monospace' font-size="5.9" font-weight="normal" fill="#333" text-anchor="start" >Src</text>
<text x="476.6" y="173.85" font-family='"Liberation Mono", monospace' font-size="5.9" font-weight="normal" fill="#333" text-anchor="start" >Nme5</text>
<text x="476.6" y="180.16" font-family='"Liberation Mono", monospace' font-size="5.9" font-weight="normal" fill="#333" text-anchor="start" >Mer</text>
<text x="476.6" y="186.47" font-family='"Liberation Mono", monospace' font-size="5.9" font-weight="normal" fill="#333" text-anchor="start" >Map3k4</text>
<text x="476.6" y="192.79" font-family='"Liberation Mono", monospace' font-size="5.9" font-weight="normal" fill="#333" text-anchor="start" >Apex1</text>
<text x="476.6" y="199.10" font-family='"Liberation Mono", monospace' font-size="5.9" font-weight="normal" fill="#333" text-anchor="start" >Mapk8</text>
<text x="476.6" y="205.41" font-family='"Liberation Mono", monospace' font-size="5.9" font-weight="normal" fill="#333" text-anchor="start" >Cyp11a1</text>
<text x="476.6" y="211.72" font-family='"Liberation Mono", monospace' font-size="5.9" font-weight="normal" fill="#333" text-anchor="start" >Net1</text>
<text x="476.6" y="218.04" font-family='"Liberation Mono", monospace' font-size="5.9" font-weight="normal" fill="#333" text-anchor="start" >Brk</text>
<text x="476.6" y="224.35" font-family='"Liberation Mono", monospace' font-size="5.9" font-weight="normal" fill="#333" text-anchor="start" >Trpa1</text>
<text x="476.6" y="230.66" font-family='"Liberation Mono", monospace' font-size="5.9" font-weight="normal" fill="#333" text-anchor="start" >Stk25</text>
<text x="476.6" y="236.97" font-family='"Liberation Mono", monospace' font-size="5.9" font-weight="normal" fill="#333" text-anchor="start" >Sgsm1</text>
<text x="476.6" y="243.29" font-family='"Liberation Mono", monospace' font-size="5.9" font-weight="normal" fill="#333" text-anchor="start" >Ngb</text>
<text x="476.6" y="249.60" font-family='"Liberation Mono", monospace' font-size="5.9" font-weight="normal" fill="#333" text-anchor="start" >Pex14</text>
<text x="476.6" y="255.91" font-family='"Liberation Mono", monospace' font-size="5.9" font-weight="normal" fill="#333" text-anchor="start" >Ret</text>
<text x="476.6" y="262.22" font-family='"Liberation Mono", monospace' font-size="5.9" font-weight="normal" fill="#333" text-anchor="start" >Dcp1</text>
<text x="476.6" y="268.54" font-family='"Liberation Mono", monospace' font-size="5.9" font-weight="normal" fill="#333" text-anchor="start" >Sesn3</text>
<text x="476.6" y="274.85" font-family='"Liberation Mono", monospace' font-size="5.9" font-weight="normal" fill="#333" text-anchor="start" >Zfp277</text>
<text x="476.6" y="281.16" font-family='"Liberation Mono", monospace' font-size="5.9" font-weight="normal" fill="#333" text-anchor="start" >Prkca</text>
<text x="476.6" y="287.47" font-family='"Liberation Mono", monospace' font-size="5.9" font-weight="normal" fill="#333" text-anchor="start" >Epor</text>
<text x="476.6" y="293.79" font-family='"Liberation Mono", monospace' font-size="5.9" font-weight="normal" fill="#333" text-anchor="start" >Nr3</text>
<text x="476.6" y="300.10" font-family='"Liberation Mono", monospace' font-size="5.9" font-weight="normal" fill="#333" text-anchor="start" >Ppnad</text>
<text x="476.6" y="306.41" font-family='"Liberation Mono", monospace' font-size="5.9" font-weight="normal" fill="#333" text-anchor="start" >Akr1b3</text>
<text x="476.6" y="312.72" font-family='"Liberation Mono", monospace' font-size="5.9" font-weight="normal" fill="#333" text-anchor="start" >Fos</text>
<text x="476.6" y="319.04" font-family='"Liberation Mono", monospace' font-size="5.9" font-weight="normal" fill="#333" text-anchor="start" >Map3k5</text>
<text x="476.6" y="325.35" font-family='"Liberation Mono", monospace' font-size="5.9" font-weight="normal" fill="#333" text-anchor="start" >Pnip3</text>
<text x="476.6" y="331.66" font-family='"Liberation Mono", monospace' font-size="5.9" font-weight="normal" fill="#333" text-anchor="start" >Ptprk</text>
<text x="476.6" y="337.97" font-family='"Liberation Mono", monospace' font-size="5.9" font-weight="normal" fill="#333" text-anchor="start" >Ercc6</text>
<text x="476.6" y="344.29" font-family='"Liberation Mono", monospace' font-size="5.9" font-weight="normal" fill="#333" text-anchor="start" >Dpa1</text>
<text x="476.6" y="350.60" font-family='"Liberation Mono", monospace' font-size="5.9" font-weight="normal" fill="#333" text-anchor="start" >Zfp580</text>
<text x="476.6" y="356.91" font-family='"Liberation Mono", monospace' font-size="5.9" font-weight="normal" fill="#333" text-anchor="start" >Gstp1</text>
<text x="476.6" y="363.22" font-family='"Liberation Mono", monospace' font-size="5.9" font-weight="normal" fill="#333" text-anchor="start" >Tacr1</text>
<text x="476.6" y="369.54" font-family='"Liberation Mono", monospace' font-size="5.9" font-weight="normal" fill="#333" text-anchor="start" >Mst1</text>
<text x="476.6" y="375.85" font-family='"Liberation Mono", monospace' font-size="5.9" font-weight="normal" fill="#333" text-anchor="start" >Pink1</text>
<text x="476.6" y="382.16" font-family='"Liberation Mono", monospace' font-size="5.9" font-weight="normal" fill="#333" text-anchor="start" >Pdgfra</text>
<text x="476.6" y="388.47" font-family='"Liberation Mono", monospace' font-size="5.9" font-weight="normal" fill="#333" text-anchor="start" >Ppp2cb</text>
<text x="476.6" y="394.79" font-family='"Liberation Mono", monospace' font-size="5.9" font-weight="normal" fill="#333" text-anchor="start" >Nmnx1</text>
<text x="476.6" y="401.10" font-family='"Liberation Mono", monospace' font-size="5.9" font-weight="normal" fill="#333" text-anchor="start" >Lrrk2</text>
<text x="476.6" y="92.6" font-family='"Liberation Mono", monospace' font-size="7.7" font-weight="normal" fill="#3a3a3a" text-anchor="start" textLength="46.4" lengthAdjust="spacingAndGlyphs" >SampleName</text>
<line x1="471.48" y1="17" x2="472.48" y2="17" stroke="#555" stroke-width="0.8"/>
<line x1="471.48" y1="46" x2="472.48" y2="46" stroke="#555" stroke-width="0.8"/>
<text x="66.0" y="484.3" font-family='"Liberation Sans", sans-serif' font-size="18" font-weight="bold" fill="#000" text-anchor="start" >D</text>
<text x="237.8" y="483.6" font-family='"Liberation Sans", sans-serif' font-size="12.5" font-weight="bold" fill="#000" text-anchor="middle" textLength="130" lengthAdjust="spacingAndGlyphs" >NPC CTX vs WT CTX</text>
<rect x="71.8" y="497.8" width="313.4" height="316.40000000000003" fill="#efefef"/>
<rect x="114.6" y="532" width="267.0" height="239" fill="#fff"/>
<line x1="172.1" y1="532" x2="172.1" y2="648" stroke="#ebebeb" stroke-width="0.8" stroke-dasharray="2,1"/>
<line x1="172.1" y1="694.2" x2="172.1" y2="771" stroke="#ebebeb" stroke-width="0.8" stroke-dasharray="2,1"/>
<line x1="229.7" y1="532" x2="229.7" y2="648" stroke="#ebebeb" stroke-width="0.8" stroke-dasharray="2,1"/>
<line x1="229.7" y1="694.2" x2="229.7" y2="771" stroke="#ebebeb" stroke-width="0.8" stroke-dasharray="2,1"/>
<line x1="287.2" y1="532" x2="287.2" y2="648" stroke="#ebebeb" stroke-width="0.8" stroke-dasharray="2,1"/>
<line x1="287.2" y1="694.2" x2="287.2" y2="771" stroke="#ebebeb" stroke-width="0.8" stroke-dasharray="2,1"/>
<line x1="344.8" y1="532" x2="344.8" y2="648" stroke="#ebebeb" stroke-width="0.8" stroke-dasharray="2,1"/>
<line x1="344.8" y1="694.2" x2="344.8" y2="771" stroke="#ebebeb" stroke-width="0.8" stroke-dasharray="2,1"/>
<line x1="114.6" y1="544.1" x2="381.6" y2="544.1" stroke="#ebebeb" stroke-width="0.8" stroke-dasharray="2,1"/>
<text x="110.2" y="547.3" font-family='"Liberation Sans", sans-serif' font-size="8.8" font-weight="normal" fill="#858585" text-anchor="end" >0.25</text>
<line x1="114.6" y1="559.1" x2="381.6" y2="559.1" stroke="#ebebeb" stroke-width="0.8" stroke-dasharray="2,1"/>
<text x="110.2" y="562.3" font-family='"Liberation Sans", sans-serif' font-size="8.8" font-weight="normal" fill="#858585" text-anchor="end" >0.20</text>
<line x1="114.6" y1="574.1" x2="381.6" y2="574.1" stroke="#ebebeb" stroke-width="0.8" stroke-dasharray="2,1"/>
<text x="110.2" y="577.3" font-family='"Liberation Sans", sans-serif' font-size="8.8" font-weight="normal" fill="#858585" text-anchor="end" >0.15</text>
<line x1="114.6" y1="589.1" x2="381.6" y2="589.1" stroke="#ebebeb" stroke-width="0.8" stroke-dasharray="2,1"/>
<text x="110.2" y="592.3" font-family='"Liberation Sans", sans-serif' font-size="8.8" font-weight="normal" fill="#858585" text-anchor="end" >0.10</text>
<line x1="114.6" y1="604.1" x2="381.6" y2="604.1" stroke="#ebebeb" stroke-width="0.8" stroke-dasharray="2,1"/>
<text x="110.2" y="607.3" font-family='"Liberation Sans", sans-serif' font-size="8.8" font-weight="normal" fill="#858585" text-anchor="end" >0.05</text>
<line x1="114.6" y1="619.1" x2="381.6" y2="619.1" stroke="#b8b8b8" stroke-width="1"/>
<text x="110.2" y="622.3" font-family='"Liberation Sans", sans-serif' font-size="8.8" font-weight="normal" fill="#858585" text-anchor="end" >0.00</text>
<line x1="114.6" y1="634.1" x2="381.6" y2="634.1" stroke="#ebebeb" stroke-width="0.8" stroke-dasharray="2,1"/>
<text x="110.2" y="637.3" font-family='"Liberation Sans", sans-serif' font-size="8.8" font-weight="normal" fill="#858585" text-anchor="end" >-0.05</text>
<line x1="114.6" y1="698.0" x2="381.6" y2="698.0" stroke="#ebebeb" stroke-width="0.8" stroke-dasharray="2,1"/>
<text x="108.5" y="700.8" font-family='"Liberation Sans", sans-serif' font-size="7.5" font-weight="normal" fill="#333" text-anchor="end" >4</text>
<line x1="114.6" y1="718.2" x2="381.6" y2="718.2" stroke="#ebebeb" stroke-width="0.8" stroke-dasharray="2,1"/>
<text x="108.5" y="721.0" font-family='"Liberation Sans", sans-serif' font-size="7.5" font-weight="normal" fill="#333" text-anchor="end" >2</text>
<text x="108.5" y="741.2" font-family='"Liberation Sans", sans-serif' font-size="7.5" font-weight="normal" fill="#333" text-anchor="end" >0</text>
<line x1="114.6" y1="758.6" x2="381.6" y2="758.6" stroke="#ebebeb" stroke-width="0.8" stroke-dasharray="2,1"/>
<text x="108.5" y="761.4" font-family='"Liberation Sans", sans-serif' font-size="7.5" font-weight="normal" fill="#333" text-anchor="end" >-2</text>
<path d="M114.6,738.4 L114.6,717.8 L116.0,724.0 L118.0,728.0 L121.0,730.5 L126.0,732.3 L135.0,733.8 L150.0,734.9 L175.0,735.8 L200.0,736.5 L240.0,737.6 L281.4,738.4 L300.0,739.2 L320.0,740.0 L340.0,741.2 L355.0,742.6 L362.0,745.0 L366.0,750.0 L368.0,757.0 L368.8,766.0 L368.8,738.4 Z" fill="#b9b9b9" stroke="none"/>
<line x1="114.6" y1="738.4" x2="381.6" y2="738.4" stroke="#d0d0d0" stroke-width="0.8"/>
<line x1="281.4" y1="694.2" x2="281.4" y2="771" stroke="#9a9a9a" stroke-width="0.8" stroke-dasharray="2,2"/>
<text x="254.5" y="734.8" font-family='"Liberation Sans", sans-serif' font-size="6.5" font-weight="normal" fill="#222" text-anchor="start" textLength="53" lengthAdjust="spacingAndGlyphs" >Zero cross at 14535</text>
<rect x="114.1" y="648" width="2.4" height="36.39999999999998" fill="rgb(20,20,20)"/>
<rect x="117.9" y="648" width="1.9" height="36.39999999999998" fill="rgb(130,130,130)"/>
<rect x="120.6" y="648" width="7.4" height="36.39999999999998" fill="rgb(120,120,120)"/>
<rect x="130.5" y="648" width="1.5" height="36.39999999999998" fill="rgb(60,60,60)"/>
<rect x="133.0" y="648" width="3.2" height="36.39999999999998" fill="rgb(50,50,50)"/>
<rect x="138.6" y="648" width="1.7" height="36.39999999999998" fill="rgb(110,110,110)"/>
<rect x="142.7" y="648" width="2.5" height="36.39999999999998" fill="rgb(40,40,40)"/>
<rect x="146.8" y="648" width="4.2" height="36.39999999999998" fill="rgb(120,120,120)"/>
<rect x="152.2" y="648" width="2.0" height="36.39999999999998" fill="rgb(40,40,40)"/>
<rect x="155.8" y="648" width="1.7" height="36.39999999999998" fill="rgb(110,110,110)"/>
<rect x="159.0" y="648" width="2.6" height="36.39999999999998" fill="rgb(110,110,110)"/>
<rect x="162.4" y="648" width="1.6" height="36.39999999999998" fill="rgb(120,120,120)"/>
<rect x="168.0" y="648" width="7.5" height="36.39999999999998" fill="rgb(140,140,140)"/>
<rect x="176.3" y="648" width="1.7" height="36.39999999999998" fill="rgb(110,110,110)"/>
<rect x="181.2" y="648" width="5.8" height="36.39999999999998" fill="rgb(90,90,90)"/>
<rect x="188.6" y="648" width="2.4" height="36.39999999999998" fill="rgb(50,50,50)"/>
<rect x="192.6" y="648" width="2.4" height="36.39999999999998" fill="rgb(110,110,110)"/>
<rect x="196.7" y="648" width="4.8" height="36.39999999999998" fill="rgb(60,60,60)"/>
<rect x="204.0" y="648" width="1.6" height="36.39999999999998" fill="rgb(110,110,110)"/>
<rect x="207.3" y="648" width="4.1" height="36.39999999999998" fill="rgb(50,50,50)"/>
<rect x="216.3" y="648" width="3.2" height="36.39999999999998" fill="rgb(120,120,120)"/>
<rect x="222.8" y="648" width="1.7" height="36.39999999999998" fill="rgb(110,110,110)"/>
<rect x="227.7" y="648" width="2.5" height="36.39999999999998" fill="rgb(50,50,50)"/>
<rect x="235.0" y="648" width="2.6" height="36.39999999999998" fill="rgb(110,110,110)"/>
<rect x="239.2" y="648" width="4.1" height="36.39999999999998" fill="rgb(120,120,120)"/>
<rect x="244.1" y="648" width="4.9" height="36.39999999999998" fill="rgb(25,25,25)"/>
<rect x="249.8" y="648" width="3.3" height="36.39999999999998" fill="rgb(120,120,120)"/>
<rect x="255.6" y="648" width="3.2" height="36.39999999999998" fill="rgb(25,25,25)"/>
<rect x="259.6" y="648" width="2.5" height="36.39999999999998" fill="rgb(120,120,120)"/>
<rect x="262.9" y="648" width="5.7" height="36.39999999999998" fill="rgb(130,130,130)"/>
<rect x="269.5" y="648" width="2.4" height="36.39999999999998" fill="rgb(60,60,60)"/>
<rect x="273.6" y="648" width="4.9" height="36.39999999999998" fill="rgb(130,130,130)"/>
<rect x="280.1" y="648" width="2.5" height="36.39999999999998" fill="rgb(25,25,25)"/>
<rect x="283.4" y="648" width="2.3" height="36.39999999999998" fill="rgb(105,105,105)"/>
<rect x="286.7" y="648" width="2.8" height="36.39999999999998" fill="rgb(25,25,25)"/>
<rect x="291.5" y="648" width="1.9" height="36.39999999999998" fill="rgb(110,110,110)"/>
<rect x="296.2" y="648" width="2.8" height="36.39999999999998" fill="rgb(25,25,25)"/>
<rect x="299.0" y="648" width="7.7" height="36.39999999999998" fill="rgb(120,120,120)"/>
<rect x="308.6" y="648" width="1.9" height="36.39999999999998" fill="rgb(60,60,60)"/>
<rect x="312.4" y="648" width="5.8" height="36.39999999999998" fill="rgb(90,90,90)"/>
<rect x="318.2" y="648" width="1.8" height="36.39999999999998" fill="rgb(25,25,25)"/>
<rect x="324.8" y="648" width="2.9" height="36.39999999999998" fill="rgb(60,60,60)"/>
<rect x="334.4" y="648" width="4.8" height="36.39999999999998" fill="rgb(120,120,120)"/>
<rect x="341.0" y="648" width="2.0" height="36.39999999999998" fill="rgb(110,110,110)"/>
<rect x="347.7" y="648" width="4.8" height="36.39999999999998" fill="rgb(60,60,60)"/>
<rect x="363.0" y="648" width="2.0" height="36.39999999999998" fill="rgb(120,120,120)"/>
<rect x="366.8" y="648" width="1.9" height="36.39999999999998" fill="rgb(60,60,60)"/>
<defs><linearGradient id="grad8" x1="0" x2="1" y1="0" y2="0"><stop offset="0" stop-color="#ff3a3a"/><stop offset="1" stop-color="#ff5262"/></linearGradient></defs>
<rect x="114.6" y="684.4" width="85.4" height="9.800000000000068" fill="url(#grad8)"/>
<defs><linearGradient id="grad9" x1="0" x2="1" y1="0" y2="0"><stop offset="0" stop-color="#ff5c6c"/><stop offset="1" stop-color="#ff6a7a"/></linearGradient></defs>
<rect x="200" y="684.4" width="49.5" height="9.800000000000068" fill="url(#grad9)"/>
<defs><linearGradient id="grad10" x1="0" x2="1" y1="0" y2="0"><stop offset="0" stop-color="#f4a4e0"/><stop offset="1" stop-color="#f8b0e4"/></linearGradient></defs>
<rect x="249.5" y="684.4" width="31.5" height="9.800000000000068" fill="url(#grad10)"/>
<defs><linearGradient id="grad11" x1="0" x2="1" y1="0" y2="0"><stop offset="0" stop-color="#c8c6f8"/><stop offset="1" stop-color="#c4c0f8"/></linearGradient></defs>
<rect x="281" y="684.4" width="39" height="9.800000000000068" fill="url(#grad11)"/>
<defs><linearGradient id="grad12" x1="0" x2="1" y1="0" y2="0"><stop offset="0" stop-color="#7c78f2"/><stop offset="1" stop-color="#7870f0"/></linearGradient></defs>
<rect x="320" y="684.4" width="14.399999999999977" height="9.800000000000068" fill="url(#grad12)"/>
<defs><linearGradient id="grad13" x1="0" x2="1" y1="0" y2="0"><stop offset="0" stop-color="#5c48ea"/><stop offset="1" stop-color="#5a44e8"/></linearGradient></defs>
<rect x="334.4" y="684.4" width="28.600000000000023" height="9.800000000000068" fill="url(#grad13)"/>
<rect x="363" y="684.4" width="5.800000000000011" height="9.800000000000068" fill="#2800c8"/>
<line x1="114.6" y1="648" x2="381.6" y2="648" stroke="#a8a8a8" stroke-width="0.8"/>
<line x1="114.6" y1="684.4" x2="381.6" y2="684.4" stroke="#c8c8c8" stroke-width="0.6"/>
<line x1="114.6" y1="694.2" x2="381.6" y2="694.2" stroke="#c8c8c8" stroke-width="0.6"/>
<rect x="114.6" y="532" width="267.0" height="239" fill="none" stroke="#a0a0a0" stroke-width="0.8"/>
<path d="M114.6,619.2 L115.6,588.6 L117.2,586.9 L118.9,586.0 L120.8,582.6 L122.7,578.4 L124.5,576.8 L126.2,574.3 L128.0,572.7 L129.8,570.8 L132.9,558.0 L136.0,548.4 L138.0,549.1 L140.0,550.0 L143.0,551.7 L145.6,544.0 L147.3,543.3 L149.0,542.7 L150.7,541.5 L152.4,539.8 L154.1,538.4 L155.8,537.7 L157.7,537.8 L159.6,537.2 L161.3,538.6 L163.0,540.4 L164.7,541.5 L166.4,542.3 L168.1,544.0 L169.8,545.4 L171.9,545.6 L173.9,545.1 L176.0,545.4 L177.7,546.8 L179.5,547.6 L181.2,548.0 L182.9,545.8 L184.6,544.0 L186.3,542.8 L188.0,542.2 L189.7,541.9 L191.4,540.8 L193.0,541.7 L194.6,542.5 L196.2,543.7 L197.8,544.8 L199.7,543.3 L201.6,542.8 L203.3,543.8 L205.0,545.3 L206.7,546.6 L208.4,546.4 L210.1,545.8 L211.8,545.9 L213.7,547.1 L215.6,548.5 L217.5,550.2 L219.4,551.7 L221.1,552.9 L222.8,554.0 L224.5,556.3 L226.2,557.4 L227.9,558.9 L229.6,560.1 L231.5,561.5 L233.4,564.1 L235.3,565.7 L237.2,567.0 L239.1,567.5 L241.1,568.7 L243.0,570.1 L244.9,570.8 L246.6,571.0 L248.3,571.3 L250.0,570.8 L252.4,571.7 L254.3,573.4 L256.1,575.6 L258.0,577.0 L259.7,578.8 L261.4,580.0 L263.0,582.0 L264.7,583.5 L266.8,586.1 L268.9,588.2 L271.0,590.0 L273.0,591.9 L275.0,594.0 L277.0,595.8 L279.0,597.0 L281.0,599.0 L283.0,601.0 L284.8,602.9 L286.5,604.0 L288.2,605.3 L290.0,607.2 L292.1,609.3 L294.1,611.3 L295.8,613.1 L297.4,614.5 L299.3,616.4 L301.2,617.7 L303.1,619.5 L304.7,620.4 L306.4,621.4 L308.0,622.4 L309.6,623.6 L311.3,624.3 L312.9,625.2 L314.5,625.6 L316.2,626.3 L317.9,624.9 L319.5,623.6 L322.7,626.3 L325.2,628.5 L326.9,628.0 L328.5,628.5 L331.7,632.6 L333.4,634.1 L335.0,636.6 L337.5,633.9 L340.7,635.0 L342.4,636.3 L344.0,637.1 L346.1,639.4 L348.1,640.7 L349.7,634.2 L351.4,632.9 L353.0,627.6 L355.1,629.8 L357.1,631.7 L359.0,634.3 L360.9,636.8 L362.8,639.9 L364.5,633.4 L366.1,633.4 L366.9,630.9 L368.6,630.9 L368.8,618.6" fill="none" stroke="#00ff00" stroke-width="2.6" stroke-linejoin="round" stroke-linecap="round"/>
<text x="115.8" y="700.3" font-family='"Liberation Sans", sans-serif' font-size="6.2" fill="#ff2020" stroke="#ff2020" stroke-width="0.25" textLength="90" lengthAdjust="spacing">'CTX_NPC' (positively correlated)</text>
<text x="247" y="767.4" font-family='"Liberation Sans", sans-serif' font-size="6.2" fill="#3030ff" stroke="#3030ff" stroke-width="0.25" textLength="106.7" lengthAdjust="spacing">'CTX_CTRL' (negatively correlated)</text>
<text x="114.6" y="780.8" font-family='"Liberation Sans", sans-serif' font-size="7.2" font-weight="normal" fill="#333" text-anchor="middle" >0</text>
<text x="172.1" y="780.8" font-family='"Liberation Sans", sans-serif' font-size="7.2" font-weight="normal" fill="#333" text-anchor="middle" >5,000</text>
<text x="229.7" y="780.8" font-family='"Liberation Sans", sans-serif' font-size="7.2" font-weight="normal" fill="#333" text-anchor="middle" >10,000</text>
<text x="287.2" y="780.8" font-family='"Liberation Sans", sans-serif' font-size="7.2" font-weight="normal" fill="#333" text-anchor="middle" >15,000</text>
<text x="344.8" y="780.8" font-family='"Liberation Sans", sans-serif' font-size="7.2" font-weight="normal" fill="#333" text-anchor="middle" >20,000</text>
<text x="247.6" y="791.6" font-family='"Liberation Sans", sans-serif' font-size="8.3" font-weight="normal" fill="#222" text-anchor="middle" textLength="85" lengthAdjust="spacingAndGlyphs" >Rank in Ordered Dataset</text>
<text transform="translate(86.6,589.8) rotate(-90)" x="0" y="0" font-family='"Liberation Sans", sans-serif' font-size="10" fill="#444" text-anchor="middle" textLength="97" lengthAdjust="spacingAndGlyphs">Enrichment score (ES)</text>
<text transform="translate(99.2,731.8) rotate(-90)" x="0" y="0" font-family='"Liberation Sans", sans-serif' font-size="7.9" fill="#444" text-anchor="middle" textLength="116.5" lengthAdjust="spacingAndGlyphs">Ranked list metric (Signal2Noise)</text>
<text x="227.8" y="511.0" font-family='"Liberation Sans", sans-serif' font-size="11" font-weight="bold" fill="#000" text-anchor="middle" textLength="91.6" lengthAdjust="spacingAndGlyphs" >Enrichment plot:</text>
<text x="79.5" y="525.5" font-family='"Liberation Sans", sans-serif' font-size="11.2" font-weight="bold" fill="#000" text-anchor="start" textLength="298.7" lengthAdjust="spacingAndGlyphs" >GOBP_RESPONSE_TO_REACTIVE_OXYGEN_SPECIES</text>
<text x="273.4" y="543.3" font-family='"Liberation Sans", sans-serif' font-size="11.3" font-weight="bold" fill="#000" text-anchor="start" textLength="52.6" lengthAdjust="spacingAndGlyphs" >ES: 0.274</text>
<text x="273.4" y="555.2" font-family='"Liberation Sans", sans-serif' font-size="11.3" font-weight="bold" fill="#000" text-anchor="start" textLength="58" lengthAdjust="spacingAndGlyphs" >NES: 1.121</text>
<text x="273.4" y="567.4" font-family='"Liberation Sans", sans-serif' font-size="11.3" font-weight="bold" fill="#000" text-anchor="start" textLength="72" lengthAdjust="spacingAndGlyphs" >FDR-q: 0.276</text>
<rect x="120.6" y="799.0" width="216.4" height="14.0" fill="#fff" stroke="#555" stroke-width="1"/>
<line x1="123" y1="806.0" x2="133" y2="806.0" stroke="#00ff00" stroke-width="2.2"/>
<text x="135" y="809.0" font-family='"Liberation Sans", sans-serif' font-size="8.4" font-weight="normal" fill="#222" text-anchor="start" textLength="62.3" lengthAdjust="spacingAndGlyphs" >Enrichment profile</text>
<line x1="201.7" y1="806.0" x2="211" y2="806.0" stroke="#555" stroke-width="1"/>
<text x="213.5" y="809.0" font-family='"Liberation Sans", sans-serif' font-size="8.4" font-weight="normal" fill="#222" text-anchor="start" textLength="12.2" lengthAdjust="spacingAndGlyphs" >Hits</text>
<line x1="243" y1="806.0" x2="252" y2="806.0" stroke="#cfcfcf" stroke-width="1"/>
<text x="257" y="809.0" font-family='"Liberation Sans", sans-serif' font-size="8.4" font-weight="normal" fill="#222" text-anchor="start" textLength="76.6" lengthAdjust="spacingAndGlyphs" >Ranking metric scores</text>
<rect x="411.20" y="509.2" width="5.55" height="56.00000000000006" fill="#c4c4c4"/>
<rect x="416.75" y="509.2" width="5.55" height="56.00000000000006" fill="#c4c4c4"/>
<rect x="422.30" y="509.2" width="5.55" height="56.00000000000006" fill="#c4c4c4"/>
<rect x="427.85" y="509.2" width="5.55" height="56.00000000000006" fill="#ffc800"/>
<rect x="433.40" y="509.2" width="5.55" height="56.00000000000006" fill="#ffc800"/>
<rect x="438.95" y="509.2" width="5.55" height="56.00000000000006" fill="#ffc800"/>
<text transform="translate(415.57,564.2) rotate(-90)" x="0" y="0" font-family='"Liberation Mono", monospace' font-size="5.0" fill="#2a2a2a" stroke="#2a2a2a" stroke-width="0.15" textLength="39" lengthAdjust="spacingAndGlyphs">cortex_NPC_1</text>
<text transform="translate(421.12,564.2) rotate(-90)" x="0" y="0" font-family='"Liberation Mono", monospace' font-size="5.0" fill="#2a2a2a" stroke="#2a2a2a" stroke-width="0.15" textLength="39" lengthAdjust="spacingAndGlyphs">cortex_NPC_2</text>
<text transform="translate(426.68,564.2) rotate(-90)" x="0" y="0" font-family='"Liberation Mono", monospace' font-size="5.0" fill="#2a2a2a" stroke="#2a2a2a" stroke-width="0.15" textLength="39" lengthAdjust="spacingAndGlyphs">cortex_NPC_3</text>
<text transform="translate(432.22,564.2) rotate(-90)" x="0" y="0" font-family='"Liberation Mono", monospace' font-size="5.0" fill="#2a2a2a" stroke="#2a2a2a" stroke-width="0.15" textLength="52" lengthAdjust="spacingAndGlyphs">cortex_control_1</text>
<text transform="translate(437.77,564.2) rotate(-90)" x="0" y="0" font-family='"Liberation Mono", monospace' font-size="5.0" fill="#2a2a2a" stroke="#2a2a2a" stroke-width="0.15" textLength="52" lengthAdjust="spacingAndGlyphs">cortex_control_2</text>
<text transform="translate(443.32,564.2) rotate(-90)" x="0" y="0" font-family='"Liberation Mono", monospace' font-size="5.0" fill="#2a2a2a" stroke="#2a2a2a" stroke-width="0.15" textLength="52" lengthAdjust="spacingAndGlyphs">cortex_control_3</text>
<line x1="411.20" y1="509.2" x2="411.20" y2="576.9" stroke="#8a8a8a" stroke-width="0.9"/>
<line x1="416.75" y1="509.2" x2="416.75" y2="576.9" stroke="#8a8a8a" stroke-width="0.9"/>
<line x1="422.30" y1="509.2" x2="422.30" y2="576.9" stroke="#8a8a8a" stroke-width="0.9"/>
<line x1="427.85" y1="509.2" x2="427.85" y2="576.9" stroke="#8a8a8a" stroke-width="0.9"/>
<line x1="433.40" y1="509.2" x2="433.40" y2="576.9" stroke="#8a8a8a" stroke-width="0.9"/>
<line x1="438.95" y1="509.2" x2="438.95" y2="576.9" stroke="#8a8a8a" stroke-width="0.9"/>
<line x1="444.50" y1="509.2" x2="444.50" y2="576.9" stroke="#8a8a8a" stroke-width="0.9"/>
<rect x="411.20" y="576.90" width="5.55" height="5.54" fill="#ffc4e2" stroke="rgba(0,0,0,0.45)" stroke-width="0.8"/>
<rect x="416.75" y="576.90" width="5.55" height="5.54" fill="#f60000" stroke="rgba(0,0,0,0.45)" stroke-width="0.8"/>
<rect x="422.30" y="576.90" width="5.55" height="5.54" fill="#ff4c4c" stroke="rgba(0,0,0,0.45)" stroke-width="0.8"/>
<rect x="427.85" y="576.90" width="5.55" height="5.54" fill="#1c08e4" stroke="rgba(0,0,0,0.45)" stroke-width="0.8"/>
<rect x="433.40" y="576.90" width="5.55" height="5.54" fill="#4c00bc" stroke="rgba(0,0,0,0.45)" stroke-width="0.8"/>
<rect x="438.95" y="576.90" width="5.55" height="5.54" fill="#4c00bc" stroke="rgba(0,0,0,0.45)" stroke-width="0.8"/>
<rect x="411.20" y="582.44" width="5.55" height="5.54" fill="#ffc4e2" stroke="rgba(0,0,0,0.45)" stroke-width="0.8"/>
<rect x="416.75" y="582.44" width="5.55" height="5.54" fill="#f60000" stroke="rgba(0,0,0,0.45)" stroke-width="0.8"/>
<rect x="422.30" y="582.44" width="5.55" height="5.54" fill="#ff4c4c" stroke="rgba(0,0,0,0.45)" stroke-width="0.8"/>
<rect x="427.85" y="582.44" width="5.55" height="5.54" fill="#1c08e4" stroke="rgba(0,0,0,0.45)" stroke-width="0.8"/>
<rect x="433.40" y="582.44" width="5.55" height="5.54" fill="#4c00bc" stroke="rgba(0,0,0,0.45)" stroke-width="0.8"/>
<rect x="438.95" y="582.44" width="5.55" height="5.54" fill="#4c00bc" stroke="rgba(0,0,0,0.45)" stroke-width="0.8"/>
<rect x="411.20" y="587.97" width="5.55" height="5.54" fill="#ffc4e2" stroke="rgba(0,0,0,0.45)" stroke-width="0.8"/>
<rect x="416.75" y="587.97" width="5.55" height="5.54" fill="#f60000" stroke="rgba(0,0,0,0.45)" stroke-width="0.8"/>
<rect x="422.30" y="587.97" width="5.55" height="5.54" fill="#ff4c4c" stroke="rgba(0,0,0,0.45)" stroke-width="0.8"/>
<rect x="427.85" y="587.97" width="5.55" height="5.54" fill="#4c00bc" stroke="rgba(0,0,0,0.45)" stroke-width="0.8"/>
<rect x="433.40" y="587.97" width="5.55" height="5.54" fill="#4c00bc" stroke="rgba(0,0,0,0.45)" stroke-width="0.8"/>
<rect x="438.95" y="587.97" width="5.55" height="5.54" fill="#4c00bc" stroke="rgba(0,0,0,0.45)" stroke-width="0.8"/>
<rect x="411.20" y="593.51" width="5.55" height="5.54" fill="#8282ff" stroke="rgba(0,0,0,0.45)" stroke-width="0.8"/>
<rect x="416.75" y="593.51" width="5.55" height="5.54" fill="#ff4c4c" stroke="rgba(0,0,0,0.45)" stroke-width="0.8"/>
<rect x="422.30" y="593.51" width="5.55" height="5.54" fill="#f60000" stroke="rgba(0,0,0,0.45)" stroke-width="0.8"/>
<rect x="427.85" y="593.51" width="5.55" height="5.54" fill="#4c00bc" stroke="rgba(0,0,0,0.45)" stroke-width="0.8"/>
<rect x="433.40" y="593.51" width="5.55" height="5.54" fill="#1c08e4" stroke="rgba(0,0,0,0.45)" stroke-width="0.8"/>
<rect x="438.95" y="593.51" width="5.55" height="5.54" fill="#4c00bc" stroke="rgba(0,0,0,0.45)" stroke-width="0.8"/>
<rect x="411.20" y="599.04" width="5.55" height="5.54" fill="#ffc4e2" stroke="rgba(0,0,0,0.45)" stroke-width="0.8"/>
<rect x="416.75" y="599.04" width="5.55" height="5.54" fill="#ff4c4c" stroke="rgba(0,0,0,0.45)" stroke-width="0.8"/>
<rect x="422.30" y="599.04" width="5.55" height="5.54" fill="#f60000" stroke="rgba(0,0,0,0.45)" stroke-width="0.8"/>
<rect x="427.85" y="599.04" width="5.55" height="5.54" fill="#c8c6ff" stroke="rgba(0,0,0,0.45)" stroke-width="0.8"/>
<rect x="433.40" y="599.04" width="5.55" height="5.54" fill="#8282ff" stroke="rgba(0,0,0,0.45)" stroke-width="0.8"/>
<rect x="438.95" y="599.04" width="5.55" height="5.54" fill="#4c00bc" stroke="rgba(0,0,0,0.45)" stroke-width="0.8"/>
<rect x="411.20" y="604.58" width="5.55" height="5.54" fill="#ff8a8a" stroke="rgba(0,0,0,0.45)" stroke-width="0.8"/>
<rect x="416.75" y="604.58" width="5.55" height="5.54" fill="#f60000" stroke="rgba(0,0,0,0.45)" stroke-width="0.8"/>
<rect x="422.30" y="604.58" width="5.55" height="5.54" fill="#8282ff" stroke="rgba(0,0,0,0.45)" stroke-width="0.8"/>
<rect x="427.85" y="604.58" width="5.55" height="5.54" fill="#4c00bc" stroke="rgba(0,0,0,0.45)" stroke-width="0.8"/>
<rect x="433.40" y="604.58" width="5.55" height="5.54" fill="#4c00bc" stroke="rgba(0,0,0,0.45)" stroke-width="0.8"/>
<rect x="438.95" y="604.58" width="5.55" height="5.54" fill="#4c00bc" stroke="rgba(0,0,0,0.45)" stroke-width="0.8"/>
<rect x="411.20" y="610.12" width="5.55" height="5.54" fill="#c8c6ff" stroke="rgba(0,0,0,0.45)" stroke-width="0.8"/>
<rect x="416.75" y="610.12" width="5.55" height="5.54" fill="#f60000" stroke="rgba(0,0,0,0.45)" stroke-width="0.8"/>
<rect x="422.30" y="610.12" width="5.55" height="5.54" fill="#ff4c4c" stroke="rgba(0,0,0,0.45)" stroke-width="0.8"/>
<rect x="427.85" y="610.12" width="5.55" height="5.54" fill="#4c00bc" stroke="rgba(0,0,0,0.45)" stroke-width="0.8"/>
<rect x="433.40" y="610.12" width="5.55" height="5.54" fill="#c8c6ff" stroke="rgba(0,0,0,0.45)" stroke-width="0.8"/>
<rect x="438.95" y="610.12" width="5.55" height="5.54" fill="#4c00bc" stroke="rgba(0,0,0,0.45)" stroke-width="0.8"/>
<rect x="411.20" y="615.65" width="5.55" height="5.54" fill="#ff8a8a" stroke="rgba(0,0,0,0.45)" stroke-width="0.8"/>
<rect x="416.75" y="615.65" width="5.55" height="5.54" fill="#8282ff" stroke="rgba(0,0,0,0.45)" stroke-width="0.8"/>
<rect x="422.30" y="615.65" width="5.55" height="5.54" fill="#f60000" stroke="rgba(0,0,0,0.45)" stroke-width="0.8"/>
<rect x="427.85" y="615.65" width="5.55" height="5.54" fill="#1c08e4" stroke="rgba(0,0,0,0.45)" stroke-width="0.8"/>
<rect x="433.40" y="615.65" width="5.55" height="5.54" fill="#1c08e4" stroke="rgba(0,0,0,0.45)" stroke-width="0.8"/>
<rect x="438.95" y="615.65" width="5.55" height="5.54" fill="#4c00bc" stroke="rgba(0,0,0,0.45)" stroke-width="0.8"/>
<rect x="411.20" y="621.19" width="5.55" height="5.54" fill="#f60000" stroke="rgba(0,0,0,0.45)" stroke-width="0.8"/>
<rect x="416.75" y="621.19" width="5.55" height="5.54" fill="#c8c6ff" stroke="rgba(0,0,0,0.45)" stroke-width="0.8"/>
<rect x="422.30" y="621.19" width="5.55" height="5.54" fill="#ffc4e2" stroke="rgba(0,0,0,0.45)" stroke-width="0.8"/>
<rect x="427.85" y="621.19" width="5.55" height="5.54" fill="#4c00bc" stroke="rgba(0,0,0,0.45)" stroke-width="0.8"/>
<rect x="433.40" y="621.19" width="5.55" height="5.54" fill="#4c00bc" stroke="rgba(0,0,0,0.45)" stroke-width="0.8"/>
<rect x="438.95" y="621.19" width="5.55" height="5.54" fill="#1c08e4" stroke="rgba(0,0,0,0.45)" stroke-width="0.8"/>
<rect x="411.20" y="626.72" width="5.55" height="5.54" fill="#ff8a8a" stroke="rgba(0,0,0,0.45)" stroke-width="0.8"/>
<rect x="416.75" y="626.72" width="5.55" height="5.54" fill="#f60000" stroke="rgba(0,0,0,0.45)" stroke-width="0.8"/>
<rect x="422.30" y="626.72" width="5.55" height="5.54" fill="#c8c6ff" stroke="rgba(0,0,0,0.45)" stroke-width="0.8"/>
<rect x="427.85" y="626.72" width="5.55" height="5.54" fill="#8282ff" stroke="rgba(0,0,0,0.45)" stroke-width="0.8"/>
<rect x="433.40" y="626.72" width="5.55" height="5.54" fill="#4c00bc" stroke="rgba(0,0,0,0.45)" stroke-width="0.8"/>
<rect x="438.95" y="626.72" width="5.55" height="5.54" fill="#8282ff" stroke="rgba(0,0,0,0.45)" stroke-width="0.8"/>
<rect x="411.20" y="632.26" width="5.55" height="5.54" fill="#c8c6ff" stroke="rgba(0,0,0,0.45)" stroke-width="0.8"/>
<rect x="416.75" y="632.26" width="5.55" height="5.54" fill="#ff4c4c" stroke="rgba(0,0,0,0.45)" stroke-width="0.8"/>
<rect x="422.30" y="632.26" width="5.55" height="5.54" fill="#f60000" stroke="rgba(0,0,0,0.45)" stroke-width="0.8"/>
<rect x="427.85" y="632.26" width="5.55" height="5.54" fill="#4c00bc" stroke="rgba(0,0,0,0.45)" stroke-width="0.8"/>
<rect x="433.40" y="632.26" width="5.55" height="5.54" fill="#4c00bc" stroke="rgba(0,0,0,0.45)" stroke-width="0.8"/>
<rect x="438.95" y="632.26" width="5.55" height="5.54" fill="#4c00bc" stroke="rgba(0,0,0,0.45)" stroke-width="0.8"/>
<rect x="411.20" y="637.80" width="5.55" height="5.54" fill="#ff8a8a" stroke="rgba(0,0,0,0.45)" stroke-width="0.8"/>
<rect x="416.75" y="637.80" width="5.55" height="5.54" fill="#f60000" stroke="rgba(0,0,0,0.45)" stroke-width="0.8"/>
<rect x="422.30" y="637.80" width="5.55" height="5.54" fill="#8282ff" stroke="rgba(0,0,0,0.45)" stroke-width="0.8"/>
<rect x="427.85" y="637.80" width="5.55" height="5.54" fill="#4c00bc" stroke="rgba(0,0,0,0.45)" stroke-width="0.8"/>
<rect x="433.40" y="637.80" width="5.55" height="5.54" fill="#4c00bc" stroke="rgba(0,0,0,0.45)" stroke-width="0.8"/>
<rect x="438.95" y="637.80" width="5.55" height="5.54" fill="#4c00bc" stroke="rgba(0,0,0,0.45)" stroke-width="0.8"/>
<rect x="411.20" y="643.33" width="5.55" height="5.54" fill="#ffc4e2" stroke="rgba(0,0,0,0.45)" stroke-width="0.8"/>
<rect x="416.75" y="643.33" width="5.55" height="5.54" fill="#f60000" stroke="rgba(0,0,0,0.45)" stroke-width="0.8"/>
<rect x="422.30" y="643.33" width="5.55" height="5.54" fill="#c8c6ff" stroke="rgba(0,0,0,0.45)" stroke-width="0.8"/>
<rect x="427.85" y="643.33" width="5.55" height="5.54" fill="#4c00bc" stroke="rgba(0,0,0,0.45)" stroke-width="0.8"/>
<rect x="433.40" y="643.33" width="5.55" height="5.54" fill="#4c00bc" stroke="rgba(0,0,0,0.45)" stroke-width="0.8"/>
<rect x="438.95" y="643.33" width="5.55" height="5.54" fill="#4c00bc" stroke="rgba(0,0,0,0.45)" stroke-width="0.8"/>
<rect x="411.20" y="648.87" width="5.55" height="5.54" fill="#f60000" stroke="rgba(0,0,0,0.45)" stroke-width="0.8"/>
<rect x="416.75" y="648.87" width="5.55" height="5.54" fill="#ff8a8a" stroke="rgba(0,0,0,0.45)" stroke-width="0.8"/>
<rect x="422.30" y="648.87" width="5.55" height="5.54" fill="#ff8a8a" stroke="rgba(0,0,0,0.45)" stroke-width="0.8"/>
<rect x="427.85" y="648.87" width="5.55" height="5.54" fill="#4c00bc" stroke="rgba(0,0,0,0.45)" stroke-width="0.8"/>
<rect x="433.40" y="648.87" width="5.55" height="5.54" fill="#4c00bc" stroke="rgba(0,0,0,0.45)" stroke-width="0.8"/>
<rect x="438.95" y="648.87" width="5.55" height="5.54" fill="#4c00bc" stroke="rgba(0,0,0,0.45)" stroke-width="0.8"/>
<rect x="411.20" y="654.40" width="5.55" height="5.54" fill="#f60000" stroke="rgba(0,0,0,0.45)" stroke-width="0.8"/>
<rect x="416.75" y="654.40" width="5.55" height="5.54" fill="#ff8a8a" stroke="rgba(0,0,0,0.45)" stroke-width="0.8"/>
<rect x="422.30" y="654.40" width="5.55" height="5.54" fill="#c8c6ff" stroke="rgba(0,0,0,0.45)" stroke-width="0.8"/>
<rect x="427.85" y="654.40" width="5.55" height="5.54" fill="#c8c6ff" stroke="rgba(0,0,0,0.45)" stroke-width="0.8"/>
<rect x="433.40" y="654.40" width="5.55" height="5.54" fill="#1c08e4" stroke="rgba(0,0,0,0.45)" stroke-width="0.8"/>
<rect x="438.95" y="654.40" width="5.55" height="5.54" fill="#4c00bc" stroke="rgba(0,0,0,0.45)" stroke-width="0.8"/>
<rect x="411.20" y="659.94" width="5.55" height="5.54" fill="#f60000" stroke="rgba(0,0,0,0.45)" stroke-width="0.8"/>
<rect x="416.75" y="659.94" width="5.55" height="5.54" fill="#c8c6ff" stroke="rgba(0,0,0,0.45)" stroke-width="0.8"/>
<rect x="422.30" y="659.94" width="5.55" height="5.54" fill="#f60000" stroke="rgba(0,0,0,0.45)" stroke-width="0.8"/>
<rect x="427.85" y="659.94" width="5.55" height="5.54" fill="#ff8a8a" stroke="rgba(0,0,0,0.45)" stroke-width="0.8"/>
<rect x="433.40" y="659.94" width="5.55" height="5.54" fill="#4c00bc" stroke="rgba(0,0,0,0.45)" stroke-width="0.8"/>
<rect x="438.95" y="659.94" width="5.55" height="5.54" fill="#4c00bc" stroke="rgba(0,0,0,0.45)" stroke-width="0.8"/>
<rect x="411.20" y="665.48" width="5.55" height="5.54" fill="#c8c6ff" stroke="rgba(0,0,0,0.45)" stroke-width="0.8"/>
<rect x="416.75" y="665.48" width="5.55" height="5.54" fill="#ff8a8a" stroke="rgba(0,0,0,0.45)" stroke-width="0.8"/>
<rect x="422.30" y="665.48" width="5.55" height="5.54" fill="#f60000" stroke="rgba(0,0,0,0.45)" stroke-width="0.8"/>
<rect x="427.85" y="665.48" width="5.55" height="5.54" fill="#4c00bc" stroke="rgba(0,0,0,0.45)" stroke-width="0.8"/>
<rect x="433.40" y="665.48" width="5.55" height="5.54" fill="#c8c6ff" stroke="rgba(0,0,0,0.45)" stroke-width="0.8"/>
<rect x="438.95" y="665.48" width="5.55" height="5.54" fill="#8282ff" stroke="rgba(0,0,0,0.45)" stroke-width="0.8"/>
<rect x="411.20" y="671.01" width="5.55" height="5.54" fill="#ffc4e2" stroke="rgba(0,0,0,0.45)" stroke-width="0.8"/>
<rect x="416.75" y="671.01" width="5.55" height="5.54" fill="#f60000" stroke="rgba(0,0,0,0.45)" stroke-width="0.8"/>
<rect x="422.30" y="671.01" width="5.55" height="5.54" fill="#c8c6ff" stroke="rgba(0,0,0,0.45)" stroke-width="0.8"/>
<rect x="427.85" y="671.01" width="5.55" height="5.54" fill="#4c00bc" stroke="rgba(0,0,0,0.45)" stroke-width="0.8"/>
<rect x="433.40" y="671.01" width="5.55" height="5.54" fill="#4c00bc" stroke="rgba(0,0,0,0.45)" stroke-width="0.8"/>
<rect x="438.95" y="671.01" width="5.55" height="5.54" fill="#4c00bc" stroke="rgba(0,0,0,0.45)" stroke-width="0.8"/>
<rect x="411.20" y="676.55" width="5.55" height="5.54" fill="#c8c6ff" stroke="rgba(0,0,0,0.45)" stroke-width="0.8"/>
<rect x="416.75" y="676.55" width="5.55" height="5.54" fill="#f60000" stroke="rgba(0,0,0,0.45)" stroke-width="0.8"/>
<rect x="422.30" y="676.55" width="5.55" height="5.54" fill="#ffc4e2" stroke="rgba(0,0,0,0.45)" stroke-width="0.8"/>
<rect x="427.85" y="676.55" width="5.55" height="5.54" fill="#4c00bc" stroke="rgba(0,0,0,0.45)" stroke-width="0.8"/>
<rect x="433.40" y="676.55" width="5.55" height="5.54" fill="#4c00bc" stroke="rgba(0,0,0,0.45)" stroke-width="0.8"/>
<rect x="438.95" y="676.55" width="5.55" height="5.54" fill="#4c00bc" stroke="rgba(0,0,0,0.45)" stroke-width="0.8"/>
<rect x="411.20" y="682.08" width="5.55" height="5.54" fill="#4c00bc" stroke="rgba(0,0,0,0.45)" stroke-width="0.8"/>
<rect x="416.75" y="682.08" width="5.55" height="5.54" fill="#f60000" stroke="rgba(0,0,0,0.45)" stroke-width="0.8"/>
<rect x="422.30" y="682.08" width="5.55" height="5.54" fill="#ffc4e2" stroke="rgba(0,0,0,0.45)" stroke-width="0.8"/>
<rect x="427.85" y="682.08" width="5.55" height="5.54" fill="#4c00bc" stroke="rgba(0,0,0,0.45)" stroke-width="0.8"/>
<rect x="433.40" y="682.08" width="5.55" height="5.54" fill="#4c00bc" stroke="rgba(0,0,0,0.45)" stroke-width="0.8"/>
<rect x="438.95" y="682.08" width="5.55" height="5.54" fill="#1c08e4" stroke="rgba(0,0,0,0.45)" stroke-width="0.8"/>
<rect x="411.20" y="687.62" width="5.55" height="5.54" fill="#4c00bc" stroke="rgba(0,0,0,0.45)" stroke-width="0.8"/>
<rect x="416.75" y="687.62" width="5.55" height="5.54" fill="#ff4c4c" stroke="rgba(0,0,0,0.45)" stroke-width="0.8"/>
<rect x="422.30" y="687.62" width="5.55" height="5.54" fill="#f60000" stroke="rgba(0,0,0,0.45)" stroke-width="0.8"/>
<rect x="427.85" y="687.62" width="5.55" height="5.54" fill="#4c00bc" stroke="rgba(0,0,0,0.45)" stroke-width="0.8"/>
<rect x="433.40" y="687.62" width="5.55" height="5.54" fill="#4c00bc" stroke="rgba(0,0,0,0.45)" stroke-width="0.8"/>
<rect x="438.95" y="687.62" width="5.55" height="5.54" fill="#4c00bc" stroke="rgba(0,0,0,0.45)" stroke-width="0.8"/>
<rect x="411.20" y="693.16" width="5.55" height="5.54" fill="#ff4c4c" stroke="rgba(0,0,0,0.45)" stroke-width="0.8"/>
<rect x="416.75" y="693.16" width="5.55" height="5.54" fill="#f60000" stroke="rgba(0,0,0,0.45)" stroke-width="0.8"/>
<rect x="422.30" y="693.16" width="5.55" height="5.54" fill="#ff8a8a" stroke="rgba(0,0,0,0.45)" stroke-width="0.8"/>
<rect x="427.85" y="693.16" width="5.55" height="5.54" fill="#c8c6ff" stroke="rgba(0,0,0,0.45)" stroke-width="0.8"/>
<rect x="433.40" y="693.16" width="5.55" height="5.54" fill="#4c00bc" stroke="rgba(0,0,0,0.45)" stroke-width="0.8"/>
<rect x="438.95" y="693.16" width="5.55" height="5.54" fill="#1c08e4" stroke="rgba(0,0,0,0.45)" stroke-width="0.8"/>
<rect x="411.20" y="698.69" width="5.55" height="5.54" fill="#4c00bc" stroke="rgba(0,0,0,0.45)" stroke-width="0.8"/>
<rect x="416.75" y="698.69" width="5.55" height="5.54" fill="#f60000" stroke="rgba(0,0,0,0.45)" stroke-width="0.8"/>
<rect x="422.30" y="698.69" width="5.55" height="5.54" fill="#ff8a8a" stroke="rgba(0,0,0,0.45)" stroke-width="0.8"/>
<rect x="427.85" y="698.69" width="5.55" height="5.54" fill="#4c00bc" stroke="rgba(0,0,0,0.45)" stroke-width="0.8"/>
<rect x="433.40" y="698.69" width="5.55" height="5.54" fill="#4c00bc" stroke="rgba(0,0,0,0.45)" stroke-width="0.8"/>
<rect x="438.95" y="698.69" width="5.55" height="5.54" fill="#4c00bc" stroke="rgba(0,0,0,0.45)" stroke-width="0.8"/>
<rect x="411.20" y="704.23" width="5.55" height="5.54" fill="#f60000" stroke="rgba(0,0,0,0.45)" stroke-width="0.8"/>
<rect x="416.75" y="704.23" width="5.55" height="5.54" fill="#8282ff" stroke="rgba(0,0,0,0.45)" stroke-width="0.8"/>
<rect x="422.30" y="704.23" width="5.55" height="5.54" fill="#4c00bc" stroke="rgba(0,0,0,0.45)" stroke-width="0.8"/>
<rect x="427.85" y="704.23" width="5.55" height="5.54" fill="#4c00bc" stroke="rgba(0,0,0,0.45)" stroke-width="0.8"/>
<rect x="433.40" y="704.23" width="5.55" height="5.54" fill="#4c00bc" stroke="rgba(0,0,0,0.45)" stroke-width="0.8"/>
<rect x="438.95" y="704.23" width="5.55" height="5.54" fill="#4c00bc" stroke="rgba(0,0,0,0.45)" stroke-width="0.8"/>
<rect x="411.20" y="709.76" width="5.55" height="5.54" fill="#f60000" stroke="rgba(0,0,0,0.45)" stroke-width="0.8"/>
<rect x="416.75" y="709.76" width="5.55" height="5.54" fill="#8282ff" stroke="rgba(0,0,0,0.45)" stroke-width="0.8"/>
<rect x="422.30" y="709.76" width="5.55" height="5.54" fill="#4c00bc" stroke="rgba(0,0,0,0.45)" stroke-width="0.8"/>
<rect x="427.85" y="709.76" width="5.55" height="5.54" fill="#4c00bc" stroke="rgba(0,0,0,0.45)" stroke-width="0.8"/>
<rect x="433.40" y="709.76" width="5.55" height="5.54" fill="#4c00bc" stroke="rgba(0,0,0,0.45)" stroke-width="0.8"/>
<rect x="438.95" y="709.76" width="5.55" height="5.54" fill="#4c00bc" stroke="rgba(0,0,0,0.45)" stroke-width="0.8"/>
<rect x="411.20" y="715.30" width="5.55" height="5.54" fill="#ffc4e2" stroke="rgba(0,0,0,0.45)" stroke-width="0.8"/>
<rect x="416.75" y="715.30" width="5.55" height="5.54" fill="#f60000" stroke="rgba(0,0,0,0.45)" stroke-width="0.8"/>
<rect x="422.30" y="715.30" width="5.55" height="5.54" fill="#1c08e4" stroke="rgba(0,0,0,0.45)" stroke-width="0.8"/>
<rect x="427.85" y="715.30" width="5.55" height="5.54" fill="#4c00bc" stroke="rgba(0,0,0,0.45)" stroke-width="0.8"/>
<rect x="433.40" y="715.30" width="5.55" height="5.54" fill="#4c00bc" stroke="rgba(0,0,0,0.45)" stroke-width="0.8"/>
<rect x="438.95" y="715.30" width="5.55" height="5.54" fill="#4c00bc" stroke="rgba(0,0,0,0.45)" stroke-width="0.8"/>
<rect x="411.20" y="720.84" width="5.55" height="5.54" fill="#c8c6ff" stroke="rgba(0,0,0,0.45)" stroke-width="0.8"/>
<rect x="416.75" y="720.84" width="5.55" height="5.54" fill="#f60000" stroke="rgba(0,0,0,0.45)" stroke-width="0.8"/>
<rect x="422.30" y="720.84" width="5.55" height="5.54" fill="#c8c6ff" stroke="rgba(0,0,0,0.45)" stroke-width="0.8"/>
<rect x="427.85" y="720.84" width="5.55" height="5.54" fill="#c8c6ff" stroke="rgba(0,0,0,0.45)" stroke-width="0.8"/>
<rect x="433.40" y="720.84" width="5.55" height="5.54" fill="#c8c6ff" stroke="rgba(0,0,0,0.45)" stroke-width="0.8"/>
<rect x="438.95" y="720.84" width="5.55" height="5.54" fill="#4c00bc" stroke="rgba(0,0,0,0.45)" stroke-width="0.8"/>
<rect x="411.20" y="726.37" width="5.55" height="5.54" fill="#f60000" stroke="rgba(0,0,0,0.45)" stroke-width="0.8"/>
<rect x="416.75" y="726.37" width="5.55" height="5.54" fill="#1c08e4" stroke="rgba(0,0,0,0.45)" stroke-width="0.8"/>
<rect x="422.30" y="726.37" width="5.55" height="5.54" fill="#ffc4e2" stroke="rgba(0,0,0,0.45)" stroke-width="0.8"/>
<rect x="427.85" y="726.37" width="5.55" height="5.54" fill="#8282ff" stroke="rgba(0,0,0,0.45)" stroke-width="0.8"/>
<rect x="433.40" y="726.37" width="5.55" height="5.54" fill="#4c00bc" stroke="rgba(0,0,0,0.45)" stroke-width="0.8"/>
<rect x="438.95" y="726.37" width="5.55" height="5.54" fill="#4c00bc" stroke="rgba(0,0,0,0.45)" stroke-width="0.8"/>
<rect x="411.20" y="731.91" width="5.55" height="5.54" fill="#4c00bc" stroke="rgba(0,0,0,0.45)" stroke-width="0.8"/>
<rect x="416.75" y="731.91" width="5.55" height="5.54" fill="#c8c6ff" stroke="rgba(0,0,0,0.45)" stroke-width="0.8"/>
<rect x="422.30" y="731.91" width="5.55" height="5.54" fill="#f60000" stroke="rgba(0,0,0,0.45)" stroke-width="0.8"/>
<rect x="427.85" y="731.91" width="5.55" height="5.54" fill="#4c00bc" stroke="rgba(0,0,0,0.45)" stroke-width="0.8"/>
<rect x="433.40" y="731.91" width="5.55" height="5.54" fill="#4c00bc" stroke="rgba(0,0,0,0.45)" stroke-width="0.8"/>
<rect x="438.95" y="731.91" width="5.55" height="5.54" fill="#4c00bc" stroke="rgba(0,0,0,0.45)" stroke-width="0.8"/>
<rect x="411.20" y="737.44" width="5.55" height="5.54" fill="#f60000" stroke="rgba(0,0,0,0.45)" stroke-width="0.8"/>
<rect x="416.75" y="737.44" width="5.55" height="5.54" fill="#8282ff" stroke="rgba(0,0,0,0.45)" stroke-width="0.8"/>
<rect x="422.30" y="737.44" width="5.55" height="5.54" fill="#f60000" stroke="rgba(0,0,0,0.45)" stroke-width="0.8"/>
<rect x="427.85" y="737.44" width="5.55" height="5.54" fill="#4c00bc" stroke="rgba(0,0,0,0.45)" stroke-width="0.8"/>
<rect x="433.40" y="737.44" width="5.55" height="5.54" fill="#4c00bc" stroke="rgba(0,0,0,0.45)" stroke-width="0.8"/>
<rect x="438.95" y="737.44" width="5.55" height="5.54" fill="#8282ff" stroke="rgba(0,0,0,0.45)" stroke-width="0.8"/>
<rect x="411.20" y="742.98" width="5.55" height="5.54" fill="#f60000" stroke="rgba(0,0,0,0.45)" stroke-width="0.8"/>
<rect x="416.75" y="742.98" width="5.55" height="5.54" fill="#ff4c4c" stroke="rgba(0,0,0,0.45)" stroke-width="0.8"/>
<rect x="422.30" y="742.98" width="5.55" height="5.54" fill="#f60000" stroke="rgba(0,0,0,0.45)" stroke-width="0.8"/>
<rect x="427.85" y="742.98" width="5.55" height="5.54" fill="#1c08e4" stroke="rgba(0,0,0,0.45)" stroke-width="0.8"/>
<rect x="433.40" y="742.98" width="5.55" height="5.54" fill="#4c00bc" stroke="rgba(0,0,0,0.45)" stroke-width="0.8"/>
<rect x="438.95" y="742.98" width="5.55" height="5.54" fill="#8282ff" stroke="rgba(0,0,0,0.45)" stroke-width="0.8"/>
<rect x="411.20" y="748.52" width="5.55" height="5.54" fill="#1c08e4" stroke="rgba(0,0,0,0.45)" stroke-width="0.8"/>
<rect x="416.75" y="748.52" width="5.55" height="5.54" fill="#f60000" stroke="rgba(0,0,0,0.45)" stroke-width="0.8"/>
<rect x="422.30" y="748.52" width="5.55" height="5.54" fill="#ff8a8a" stroke="rgba(0,0,0,0.45)" stroke-width="0.8"/>
<rect x="427.85" y="748.52" width="5.55" height="5.54" fill="#c8c6ff" stroke="rgba(0,0,0,0.45)" stroke-width="0.8"/>
<rect x="433.40" y="748.52" width="5.55" height="5.54" fill="#8282ff" stroke="rgba(0,0,0,0.45)" stroke-width="0.8"/>
<rect x="438.95" y="748.52" width="5.55" height="5.54" fill="#4c00bc" stroke="rgba(0,0,0,0.45)" stroke-width="0.8"/>
<rect x="411.20" y="754.05" width="5.55" height="5.54" fill="#f60000" stroke="rgba(0,0,0,0.45)" stroke-width="0.8"/>
<rect x="416.75" y="754.05" width="5.55" height="5.54" fill="#ff8a8a" stroke="rgba(0,0,0,0.45)" stroke-width="0.8"/>
<rect x="422.30" y="754.05" width="5.55" height="5.54" fill="#8282ff" stroke="rgba(0,0,0,0.45)" stroke-width="0.8"/>
<rect x="427.85" y="754.05" width="5.55" height="5.54" fill="#4c00bc" stroke="rgba(0,0,0,0.45)" stroke-width="0.8"/>
<rect x="433.40" y="754.05" width="5.55" height="5.54" fill="#4c00bc" stroke="rgba(0,0,0,0.45)" stroke-width="0.8"/>
<rect x="438.95" y="754.05" width="5.55" height="5.54" fill="#ffc4e2" stroke="rgba(0,0,0,0.45)" stroke-width="0.8"/>
<rect x="411.20" y="759.59" width="5.55" height="5.54" fill="#8282ff" stroke="rgba(0,0,0,0.45)" stroke-width="0.8"/>
<rect x="416.75" y="759.59" width="5.55" height="5.54" fill="#f60000" stroke="rgba(0,0,0,0.45)" stroke-width="0.8"/>
<rect x="422.30" y="759.59" width="5.55" height="5.54" fill="#c8c6ff" stroke="rgba(0,0,0,0.45)" stroke-width="0.8"/>
<rect x="427.85" y="759.59" width="5.55" height="5.54" fill="#c8c6ff" stroke="rgba(0,0,0,0.45)" stroke-width="0.8"/>
<rect x="433.40" y="759.59" width="5.55" height="5.54" fill="#8282ff" stroke="rgba(0,0,0,0.45)" stroke-width="0.8"/>
<rect x="438.95" y="759.59" width="5.55" height="5.54" fill="#4c00bc" stroke="rgba(0,0,0,0.45)" stroke-width="0.8"/>
<rect x="411.20" y="765.12" width="5.55" height="5.54" fill="#c8c6ff" stroke="rgba(0,0,0,0.45)" stroke-width="0.8"/>
<rect x="416.75" y="765.12" width="5.55" height="5.54" fill="#f60000" stroke="rgba(0,0,0,0.45)" stroke-width="0.8"/>
<rect x="422.30" y="765.12" width="5.55" height="5.54" fill="#ffc4e2" stroke="rgba(0,0,0,0.45)" stroke-width="0.8"/>
<rect x="427.85" y="765.12" width="5.55" height="5.54" fill="#4c00bc" stroke="rgba(0,0,0,0.45)" stroke-width="0.8"/>
<rect x="433.40" y="765.12" width="5.55" height="5.54" fill="#4c00bc" stroke="rgba(0,0,0,0.45)" stroke-width="0.8"/>
<rect x="438.95" y="765.12" width="5.55" height="5.54" fill="#4c00bc" stroke="rgba(0,0,0,0.45)" stroke-width="0.8"/>
<rect x="411.20" y="770.66" width="5.55" height="5.54" fill="#4c00bc" stroke="rgba(0,0,0,0.45)" stroke-width="0.8"/>
<rect x="416.75" y="770.66" width="5.55" height="5.54" fill="#f60000" stroke="rgba(0,0,0,0.45)" stroke-width="0.8"/>
<rect x="422.30" y="770.66" width="5.55" height="5.54" fill="#ff4c4c" stroke="rgba(0,0,0,0.45)" stroke-width="0.8"/>
<rect x="427.85" y="770.66" width="5.55" height="5.54" fill="#1c08e4" stroke="rgba(0,0,0,0.45)" stroke-width="0.8"/>
<rect x="433.40" y="770.66" width="5.55" height="5.54" fill="#c8c6ff" stroke="rgba(0,0,0,0.45)" stroke-width="0.8"/>
<rect x="438.95" y="770.66" width="5.55" height="5.54" fill="#1c08e4" stroke="rgba(0,0,0,0.45)" stroke-width="0.8"/>
<rect x="411.20" y="576.90" width="33.30" height="199.30" fill="none" stroke="rgba(0,0,0,0.35)" stroke-width="0.6"/>
<line x1="444.50" y1="576.90" x2="509.4" y2="576.90" stroke="#7a7a7a" stroke-width="0.9"/>
<line x1="444.50" y1="582.44" x2="509.4" y2="582.44" stroke="#7a7a7a" stroke-width="0.9"/>
<line x1="444.50" y1="587.97" x2="509.4" y2="587.97" stroke="#7a7a7a" stroke-width="0.9"/>
<line x1="444.50" y1="593.51" x2="509.4" y2="593.51" stroke="#7a7a7a" stroke-width="0.9"/>
<line x1="444.50" y1="599.04" x2="509.4" y2="599.04" stroke="#7a7a7a" stroke-width="0.9"/>
<line x1="444.50" y1="604.58" x2="509.4" y2="604.58" stroke="#7a7a7a" stroke-width="0.9"/>
<line x1="444.50" y1="610.12" x2="509.4" y2="610.12" stroke="#7a7a7a" stroke-width="0.9"/>
<line x1="444.50" y1="615.65" x2="509.4" y2="615.65" stroke="#7a7a7a" stroke-width="0.9"/>
<line x1="444.50" y1="621.19" x2="509.4" y2="621.19" stroke="#7a7a7a" stroke-width="0.9"/>
<line x1="444.50" y1="626.72" x2="509.4" y2="626.72" stroke="#7a7a7a" stroke-width="0.9"/>
<line x1="444.50" y1="632.26" x2="509.4" y2="632.26" stroke="#7a7a7a" stroke-width="0.9"/>
<line x1="444.50" y1="637.80" x2="509.4" y2="637.80" stroke="#7a7a7a" stroke-width="0.9"/>
<line x1="444.50" y1="643.33" x2="509.4" y2="643.33" stroke="#7a7a7a" stroke-width="0.9"/>
<line x1="444.50" y1="648.87" x2="509.4" y2="648.87" stroke="#7a7a7a" stroke-width="0.9"/>
<line x1="444.50" y1="654.40" x2="509.4" y2="654.40" stroke="#7a7a7a" stroke-width="0.9"/>
<line x1="444.50" y1="659.94" x2="509.4" y2="659.94" stroke="#7a7a7a" stroke-width="0.9"/>
<line x1="444.50" y1="665.48" x2="509.4" y2="665.48" stroke="#7a7a7a" stroke-width="0.9"/>
<line x1="444.50" y1="671.01" x2="509.4" y2="671.01" stroke="#7a7a7a" stroke-width="0.9"/>
<line x1="444.50" y1="676.55" x2="509.4" y2="676.55" stroke="#7a7a7a" stroke-width="0.9"/>
<line x1="444.50" y1="682.08" x2="509.4" y2="682.08" stroke="#7a7a7a" stroke-width="0.9"/>
<line x1="444.50" y1="687.62" x2="509.4" y2="687.62" stroke="#7a7a7a" stroke-width="0.9"/>
<line x1="444.50" y1="693.16" x2="509.4" y2="693.16" stroke="#7a7a7a" stroke-width="0.9"/>
<line x1="444.50" y1="698.69" x2="509.4" y2="698.69" stroke="#7a7a7a" stroke-width="0.9"/>
<line x1="444.50" y1="704.23" x2="509.4" y2="704.23" stroke="#7a7a7a" stroke-width="0.9"/>
<line x1="444.50" y1="709.76" x2="509.4" y2="709.76" stroke="#7a7a7a" stroke-width="0.9"/>
<line x1="444.50" y1="715.30" x2="509.4" y2="715.30" stroke="#7a7a7a" stroke-width="0.9"/>
<line x1="444.50" y1="720.84" x2="509.4" y2="720.84" stroke="#7a7a7a" stroke-width="0.9"/>
<line x1="444.50" y1="726.37" x2="509.4" y2="726.37" stroke="#7a7a7a" stroke-width="0.9"/>
<line x1="444.50" y1="731.91" x2="509.4" y2="731.91" stroke="#7a7a7a" stroke-width="0.9"/>
<line x1="444.50" y1="737.44" x2="509.4" y2="737.44" stroke="#7a7a7a" stroke-width="0.9"/>
<line x1="444.50" y1="742.98" x2="509.4" y2="742.98" stroke="#7a7a7a" stroke-width="0.9"/>
<line x1="444.50" y1="748.52" x2="509.4" y2="748.52" stroke="#7a7a7a" stroke-width="0.9"/>
<line x1="444.50" y1="754.05" x2="509.4" y2="754.05" stroke="#7a7a7a" stroke-width="0.9"/>
<line x1="444.50" y1="759.59" x2="509.4" y2="759.59" stroke="#7a7a7a" stroke-width="0.9"/>
<line x1="444.50" y1="765.12" x2="509.4" y2="765.12" stroke="#7a7a7a" stroke-width="0.9"/>
<line x1="444.50" y1="770.66" x2="509.4" y2="770.66" stroke="#7a7a7a" stroke-width="0.9"/>
<line x1="444.50" y1="776.20" x2="509.4" y2="776.20" stroke="#7a7a7a" stroke-width="0.9"/>
<text x="449.4" y="582.04" font-family='"Liberation Mono", monospace' font-size="5.3" font-weight="normal" fill="#333" text-anchor="start" >Mt3</text>
<text x="449.4" y="587.57" font-family='"Liberation Mono", monospace' font-size="5.3" font-weight="normal" fill="#333" text-anchor="start" >Nme1</text>
<text x="449.4" y="593.11" font-family='"Liberation Mono", monospace' font-size="5.3" font-weight="normal" fill="#333" text-anchor="start" >Gja1</text>
<text x="449.4" y="598.64" font-family='"Liberation Mono", monospace' font-size="5.3" font-weight="normal" fill="#333" text-anchor="start" >Lox2</text>
<text x="449.4" y="604.18" font-family='"Liberation Mono", monospace' font-size="5.3" font-weight="normal" fill="#333" text-anchor="start" >Trpa1</text>
<text x="449.4" y="609.72" font-family='"Liberation Mono", monospace' font-size="5.3" font-weight="normal" fill="#333" text-anchor="start" >Crypa</text>
<text x="449.4" y="615.25" font-family='"Liberation Mono", monospace' font-size="5.3" font-weight="normal" fill="#333" text-anchor="start" >Ucp2</text>
<text x="449.4" y="620.79" font-family='"Liberation Mono", monospace' font-size="5.3" font-weight="normal" fill="#333" text-anchor="start" >Slc4a1</text>
<text x="449.4" y="626.32" font-family='"Liberation Mono", monospace' font-size="5.3" font-weight="normal" fill="#333" text-anchor="start" >Brk</text>
<text x="449.4" y="631.86" font-family='"Liberation Mono", monospace' font-size="5.3" font-weight="normal" fill="#333" text-anchor="start" >Kcnt2</text>
<text x="449.4" y="637.40" font-family='"Liberation Mono", monospace' font-size="5.3" font-weight="normal" fill="#333" text-anchor="start" >Tlr</text>
<text x="449.4" y="642.93" font-family='"Liberation Mono", monospace' font-size="5.3" font-weight="normal" fill="#333" text-anchor="start" >Slrx2</text>
<text x="449.4" y="648.47" font-family='"Liberation Mono", monospace' font-size="5.3" font-weight="normal" fill="#333" text-anchor="start" >Ercat</text>
<text x="449.4" y="654.00" font-family='"Liberation Mono", monospace' font-size="5.3" font-weight="normal" fill="#333" text-anchor="start" >Fdx1</text>
<text x="449.4" y="659.54" font-family='"Liberation Mono", monospace' font-size="5.3" font-weight="normal" fill="#333" text-anchor="start" >Zfp580</text>
<text x="449.4" y="665.08" font-family='"Liberation Mono", monospace' font-size="5.3" font-weight="normal" fill="#333" text-anchor="start" >Fos</text>
<text x="449.4" y="670.61" font-family='"Liberation Mono", monospace' font-size="5.3" font-weight="normal" fill="#333" text-anchor="start" >Stard</text>
<text x="449.4" y="676.15" font-family='"Liberation Mono", monospace' font-size="5.3" font-weight="normal" fill="#333" text-anchor="start" >Trpm2</text>
<text x="449.4" y="681.68" font-family='"Liberation Mono", monospace' font-size="5.3" font-weight="normal" fill="#333" text-anchor="start" >Aebp</text>
<text x="449.4" y="687.22" font-family='"Liberation Mono", monospace' font-size="5.3" font-weight="normal" fill="#333" text-anchor="start" >Cdkn1a</text>
<text x="449.4" y="692.76" font-family='"Liberation Mono", monospace' font-size="5.3" font-weight="normal" fill="#333" text-anchor="start" >Foxa1</text>
<text x="449.4" y="698.29" font-family='"Liberation Mono", monospace' font-size="5.3" font-weight="normal" fill="#333" text-anchor="start" >Sirpa</text>
<text x="449.4" y="703.83" font-family='"Liberation Mono", monospace' font-size="5.3" font-weight="normal" fill="#333" text-anchor="start" >Map1</text>
<text x="449.4" y="709.36" font-family='"Liberation Mono", monospace' font-size="5.3" font-weight="normal" fill="#333" text-anchor="start" >Ripk1</text>
<text x="449.4" y="714.90" font-family='"Liberation Mono", monospace' font-size="5.3" font-weight="normal" fill="#333" text-anchor="start" >Fabp1</text>
<text x="449.4" y="720.44" font-family='"Liberation Mono", monospace' font-size="5.3" font-weight="normal" fill="#333" text-anchor="start" >Crygf</text>
<text x="449.4" y="725.97" font-family='"Liberation Mono", monospace' font-size="5.3" font-weight="normal" fill="#333" text-anchor="start" >Mt3</text>
<text x="449.4" y="731.51" font-family='"Liberation Mono", monospace' font-size="5.3" font-weight="normal" fill="#333" text-anchor="start" >Smpd1</text>
<text x="449.4" y="737.04" font-family='"Liberation Mono", monospace' font-size="5.3" font-weight="normal" fill="#333" text-anchor="start" >Mpo</text>
<text x="449.4" y="742.58" font-family='"Liberation Mono", monospace' font-size="5.3" font-weight="normal" fill="#333" text-anchor="start" >Sod1</text>
<text x="449.4" y="748.12" font-family='"Liberation Mono", monospace' font-size="5.3" font-weight="normal" fill="#333" text-anchor="start" >Hdac6</text>
<text x="449.4" y="753.65" font-family='"Liberation Mono", monospace' font-size="5.3" font-weight="normal" fill="#333" text-anchor="start" >Nfe2l2</text>
<text x="449.4" y="759.19" font-family='"Liberation Mono", monospace' font-size="5.3" font-weight="normal" fill="#333" text-anchor="start" >Foxp1</text>
<text x="449.4" y="764.72" font-family='"Liberation Mono", monospace' font-size="5.3" font-weight="normal" fill="#333" text-anchor="start" >Tacr1</text>
<text x="449.4" y="770.26" font-family='"Liberation Mono", monospace' font-size="5.3" font-weight="normal" fill="#333" text-anchor="start" >Fbln5</text>
<text x="449.4" y="775.80" font-family='"Liberation Mono", monospace' font-size="5.3" font-weight="normal" fill="#333" text-anchor="start" >Cyb5h1</text>
<text x="449.4" y="572.1" font-family='"Liberation Mono", monospace' font-size="6.8" font-weight="normal" fill="#3a3a3a" text-anchor="start" textLength="40.6" lengthAdjust="spacingAndGlyphs" >SampleName</text>
<line x1="445.00" y1="518" x2="446.00" y2="518" stroke="#555" stroke-width="0.8"/>
<line x1="445.00" y1="544" x2="446.00" y2="544" stroke="#555" stroke-width="0.8"/>
</svg></body></html>
